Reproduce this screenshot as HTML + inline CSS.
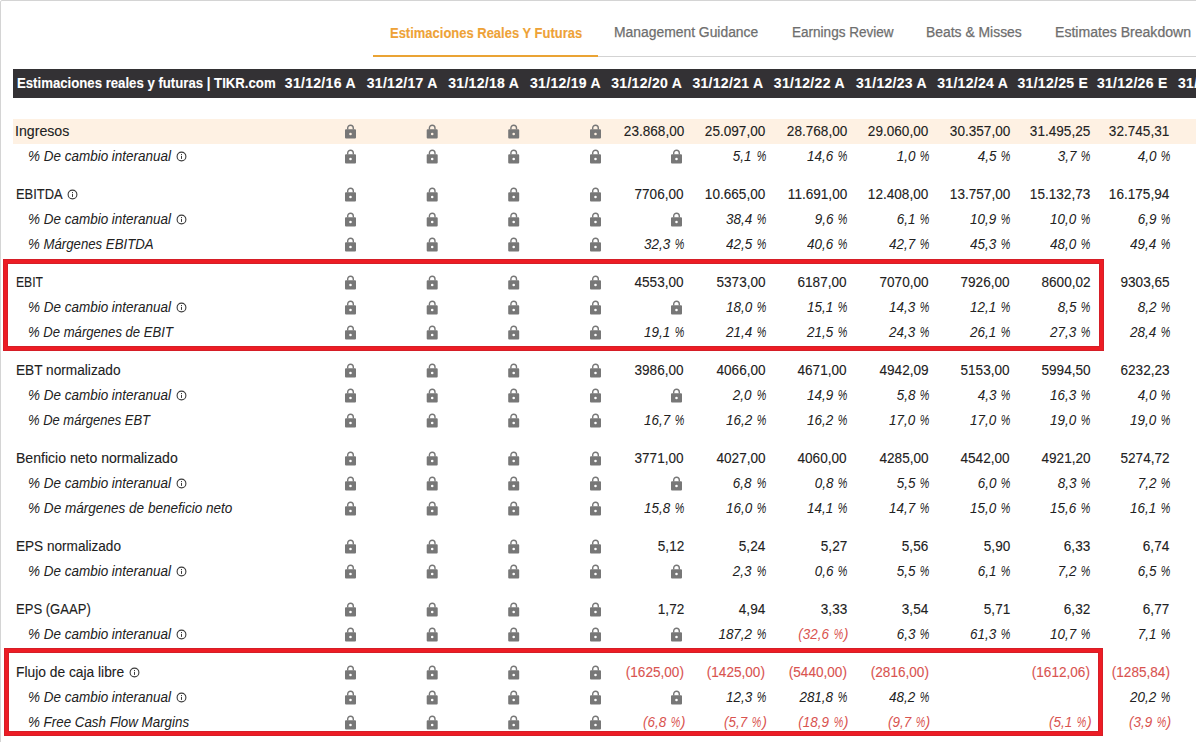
<!DOCTYPE html><html><head><meta charset="utf-8"><style>
*{margin:0;padding:0;box-sizing:border-box}
html,body{width:1196px;height:742px;overflow:hidden;background:#fff}
body{position:relative;font-family:"Liberation Sans",sans-serif;color:#212121}
.a{position:absolute;white-space:nowrap;line-height:0;-webkit-text-stroke:0.1px currentColor}
.r{text-align:right}
.n{font-size:14px}
.i{font-style:italic} .a[style*="italic"]{-webkit-text-stroke:0px currentColor}
.neg{color:#de5b53}
.lk{position:absolute;display:block;line-height:0} .lk svg{display:block}
</style></head><body><div style="position:absolute;left:0;top:0;width:1400px;height:900px;border:1px solid #d4d4d4;border-radius:2px"></div>
<div style="position:absolute;left:373px;top:56px;width:823px;height:1px;background:#d3d3d3"></div>
<div style="position:absolute;left:373px;top:55px;width:225px;height:2px;background:#eaa334"></div>
<div style="position:absolute;left:13px;top:69px;width:1183px;height:29px;background:#333134"></div>
<div class="a" style="top:33.30px;left:390.19px;font-size:14px;font-weight:700;color:#eea237;transform:scaleX(0.927);transform-origin:left;">Estimaciones Reales Y Futuras</div>
<div class="a" style="top:32.30px;left:613.81px;font-size:14px;font-weight:400;color:#6e6e6e;transform:scaleX(0.991);transform-origin:left;-webkit-text-stroke:0.25px #6e6e6e;">Management Guidance</div>
<div class="a" style="top:32.30px;left:791.61px;font-size:14px;font-weight:400;color:#6e6e6e;transform:scaleX(0.9676);transform-origin:left;-webkit-text-stroke:0.25px #6e6e6e;">Earnings Review</div>
<div class="a" style="top:32.30px;left:926.40px;font-size:14px;font-weight:400;color:#6e6e6e;transform:scaleX(0.9927);transform-origin:left;-webkit-text-stroke:0.25px #6e6e6e;">Beats &amp; Misses</div>
<div class="a" style="top:32.30px;left:1054.80px;font-size:14px;font-weight:400;color:#6e6e6e;transform:scaleX(1.0045);transform-origin:left;-webkit-text-stroke:0.25px #6e6e6e;">Estimates Breakdown</div>
<div class="a" style="top:83.30px;left:17.00px;font-size:14px;font-weight:700;color:#fff;transform:scaleX(0.9416);transform-origin:left;">Estimaciones reales y futuras | TIKR.com</div>
<div class="a " style="top:83.30px;font-size:14px;font-weight:700;color:#fff;letter-spacing:0.3px;right:840.20px;">31/12/16 A</div>
<div class="a " style="top:83.30px;font-size:14px;font-weight:700;color:#fff;letter-spacing:0.3px;right:758.30px;">31/12/17 A</div>
<div class="a " style="top:83.30px;font-size:14px;font-weight:700;color:#fff;letter-spacing:0.3px;right:676.80px;">31/12/18 A</div>
<div class="a " style="top:83.30px;font-size:14px;font-weight:700;color:#fff;letter-spacing:0.3px;right:595.00px;">31/12/19 A</div>
<div class="a " style="top:83.30px;font-size:14px;font-weight:700;color:#fff;letter-spacing:0.3px;right:513.80px;">31/12/20 A</div>
<div class="a " style="top:83.30px;font-size:14px;font-weight:700;color:#fff;letter-spacing:0.3px;right:432.60px;">31/12/21 A</div>
<div class="a " style="top:83.30px;font-size:14px;font-weight:700;color:#fff;letter-spacing:0.3px;right:351.20px;">31/12/22 A</div>
<div class="a " style="top:83.30px;font-size:14px;font-weight:700;color:#fff;letter-spacing:0.3px;right:269.00px;">31/12/23 A</div>
<div class="a " style="top:83.30px;font-size:14px;font-weight:700;color:#fff;letter-spacing:0.3px;right:187.80px;">31/12/24 A</div>
<div class="a " style="top:83.30px;font-size:14px;font-weight:700;color:#fff;letter-spacing:0.3px;right:107.80px;">31/12/25 E</div>
<div class="a " style="top:83.30px;font-size:14px;font-weight:700;color:#fff;letter-spacing:0.3px;right:28.40px;">31/12/26 E</div>
<div class="a " style="top:83.30px;font-size:14px;font-weight:700;color:#fff;letter-spacing:0.3px;left:1178.00px;">31/12/27 E</div>
<div style="position:absolute;left:13px;top:119px;width:1183px;height:25px;background:#fef1e3"></div>
<div class="a lbl" style="top:131.30px;font-size:14px;left:15.49px;transform:scaleX(1.0113);transform-origin:left;">Ingresos</div>
<div class="lk" style="left:345px;top:124px"><svg viewBox="0.00 -0.50 12 16" width="12" height="16"><path fill="#777" fill-rule="evenodd" d="M1,4.7H10A1,1 0 0 1 11,5.7V12.9A1,1 0 0 1 10,13.9H1A1,1 0 0 1 0,12.9V5.7A1,1 0 0 1 1,4.7ZM5.5,8.15A1.3,1.3 0 1 0 5.5,10.75A1.3,1.3 0 1 0 5.5,8.15Z"/><path d="M2.7,5V3.5A2.8,2.8 0 0 1 8.3,3.5V5" fill="none" stroke="#777" stroke-width="1.4"/></svg></div>
<div class="lk" style="left:426px;top:124px"><svg viewBox="-0.70 -0.50 12 16" width="12" height="16"><path fill="#777" fill-rule="evenodd" d="M1,4.7H10A1,1 0 0 1 11,5.7V12.9A1,1 0 0 1 10,13.9H1A1,1 0 0 1 0,12.9V5.7A1,1 0 0 1 1,4.7ZM5.5,8.15A1.3,1.3 0 1 0 5.5,10.75A1.3,1.3 0 1 0 5.5,8.15Z"/><path d="M2.7,5V3.5A2.8,2.8 0 0 1 8.3,3.5V5" fill="none" stroke="#777" stroke-width="1.4"/></svg></div>
<div class="lk" style="left:508px;top:124px"><svg viewBox="-0.20 -0.50 12 16" width="12" height="16"><path fill="#777" fill-rule="evenodd" d="M1,4.7H10A1,1 0 0 1 11,5.7V12.9A1,1 0 0 1 10,13.9H1A1,1 0 0 1 0,12.9V5.7A1,1 0 0 1 1,4.7ZM5.5,8.15A1.3,1.3 0 1 0 5.5,10.75A1.3,1.3 0 1 0 5.5,8.15Z"/><path d="M2.7,5V3.5A2.8,2.8 0 0 1 8.3,3.5V5" fill="none" stroke="#777" stroke-width="1.4"/></svg></div>
<div class="lk" style="left:590px;top:124px"><svg viewBox="0.00 -0.50 12 16" width="12" height="16"><path fill="#777" fill-rule="evenodd" d="M1,4.7H10A1,1 0 0 1 11,5.7V12.9A1,1 0 0 1 10,13.9H1A1,1 0 0 1 0,12.9V5.7A1,1 0 0 1 1,4.7ZM5.5,8.15A1.3,1.3 0 1 0 5.5,10.75A1.3,1.3 0 1 0 5.5,8.15Z"/><path d="M2.7,5V3.5A2.8,2.8 0 0 1 8.3,3.5V5" fill="none" stroke="#777" stroke-width="1.4"/></svg></div>
<div class="a " style="top:131.30px;font-size:14px;right:512.20px;transform:scaleX(0.97);transform-origin:right;">23.868,00</div>
<div class="a " style="top:131.30px;font-size:14px;right:430.60px;transform:scaleX(0.97);transform-origin:right;">25.097,00</div>
<div class="a " style="top:131.30px;font-size:14px;right:349.10px;transform:scaleX(0.97);transform-origin:right;">28.768,00</div>
<div class="a " style="top:131.30px;font-size:14px;right:267.30px;transform:scaleX(0.97);transform-origin:right;">29.060,00</div>
<div class="a " style="top:131.30px;font-size:14px;right:186.10px;transform:scaleX(0.97);transform-origin:right;">30.357,00</div>
<div class="a " style="top:131.30px;font-size:14px;right:105.90px;transform:scaleX(0.97);transform-origin:right;">31.495,25</div>
<div class="a " style="top:131.30px;font-size:14px;right:26.40px;transform:scaleX(0.97);transform-origin:right;">32.745,31</div>
<div class="a lbl" style="top:156.30px;font-size:14px;font-style:italic;left:28.22px;transform:scaleX(0.9624);transform-origin:left;">% De cambio interanual</div>
<div class="lk" style="left:176.00px;top:151px"><svg viewBox="0 0 11 11" width="11" height="11"><circle cx="5.5" cy="5.5" r="4.4" fill="none" stroke="#3a3a3a" stroke-width="1.1"/><rect x="5" y="4.9" width="1" height="3" fill="#3a3a3a"/><rect x="5" y="3" width="1" height="1.1" fill="#3a3a3a"/></svg></div>
<div class="lk" style="left:345px;top:149px"><svg viewBox="0.00 -0.50 12 16" width="12" height="16"><path fill="#777" fill-rule="evenodd" d="M1,4.7H10A1,1 0 0 1 11,5.7V12.9A1,1 0 0 1 10,13.9H1A1,1 0 0 1 0,12.9V5.7A1,1 0 0 1 1,4.7ZM5.5,8.15A1.3,1.3 0 1 0 5.5,10.75A1.3,1.3 0 1 0 5.5,8.15Z"/><path d="M2.7,5V3.5A2.8,2.8 0 0 1 8.3,3.5V5" fill="none" stroke="#777" stroke-width="1.4"/></svg></div>
<div class="lk" style="left:426px;top:149px"><svg viewBox="-0.70 -0.50 12 16" width="12" height="16"><path fill="#777" fill-rule="evenodd" d="M1,4.7H10A1,1 0 0 1 11,5.7V12.9A1,1 0 0 1 10,13.9H1A1,1 0 0 1 0,12.9V5.7A1,1 0 0 1 1,4.7ZM5.5,8.15A1.3,1.3 0 1 0 5.5,10.75A1.3,1.3 0 1 0 5.5,8.15Z"/><path d="M2.7,5V3.5A2.8,2.8 0 0 1 8.3,3.5V5" fill="none" stroke="#777" stroke-width="1.4"/></svg></div>
<div class="lk" style="left:508px;top:149px"><svg viewBox="-0.20 -0.50 12 16" width="12" height="16"><path fill="#777" fill-rule="evenodd" d="M1,4.7H10A1,1 0 0 1 11,5.7V12.9A1,1 0 0 1 10,13.9H1A1,1 0 0 1 0,12.9V5.7A1,1 0 0 1 1,4.7ZM5.5,8.15A1.3,1.3 0 1 0 5.5,10.75A1.3,1.3 0 1 0 5.5,8.15Z"/><path d="M2.7,5V3.5A2.8,2.8 0 0 1 8.3,3.5V5" fill="none" stroke="#777" stroke-width="1.4"/></svg></div>
<div class="lk" style="left:590px;top:149px"><svg viewBox="0.00 -0.50 12 16" width="12" height="16"><path fill="#777" fill-rule="evenodd" d="M1,4.7H10A1,1 0 0 1 11,5.7V12.9A1,1 0 0 1 10,13.9H1A1,1 0 0 1 0,12.9V5.7A1,1 0 0 1 1,4.7ZM5.5,8.15A1.3,1.3 0 1 0 5.5,10.75A1.3,1.3 0 1 0 5.5,8.15Z"/><path d="M2.7,5V3.5A2.8,2.8 0 0 1 8.3,3.5V5" fill="none" stroke="#777" stroke-width="1.4"/></svg></div>
<div class="lk" style="left:671px;top:149px"><svg viewBox="-0.00 -0.50 12 16" width="12" height="16"><path fill="#777" fill-rule="evenodd" d="M1,4.7H10A1,1 0 0 1 11,5.7V12.9A1,1 0 0 1 10,13.9H1A1,1 0 0 1 0,12.9V5.7A1,1 0 0 1 1,4.7ZM5.5,8.15A1.3,1.3 0 1 0 5.5,10.75A1.3,1.3 0 1 0 5.5,8.15Z"/><path d="M2.7,5V3.5A2.8,2.8 0 0 1 8.3,3.5V5" fill="none" stroke="#777" stroke-width="1.4"/></svg></div>
<div class="a " style="top:156.30px;font-size:14px;font-style:italic;right:429.90px;transform:scaleX(0.77);transform-origin:right;">%</div>
<div class="a " style="top:156.30px;font-size:14px;font-style:italic;right:444.20px;transform:scaleX(0.96);transform-origin:right;">5,1</div>
<div class="a " style="top:156.30px;font-size:14px;font-style:italic;right:348.40px;transform:scaleX(0.77);transform-origin:right;">%</div>
<div class="a " style="top:156.30px;font-size:14px;font-style:italic;right:362.70px;transform:scaleX(0.96);transform-origin:right;">14,6</div>
<div class="a " style="top:156.30px;font-size:14px;font-style:italic;right:266.60px;transform:scaleX(0.77);transform-origin:right;">%</div>
<div class="a " style="top:156.30px;font-size:14px;font-style:italic;right:280.90px;transform:scaleX(0.96);transform-origin:right;">1,0</div>
<div class="a " style="top:156.30px;font-size:14px;font-style:italic;right:185.40px;transform:scaleX(0.77);transform-origin:right;">%</div>
<div class="a " style="top:156.30px;font-size:14px;font-style:italic;right:199.70px;transform:scaleX(0.96);transform-origin:right;">4,5</div>
<div class="a " style="top:156.30px;font-size:14px;font-style:italic;right:105.20px;transform:scaleX(0.77);transform-origin:right;">%</div>
<div class="a " style="top:156.30px;font-size:14px;font-style:italic;right:119.50px;transform:scaleX(0.96);transform-origin:right;">3,7</div>
<div class="a " style="top:156.30px;font-size:14px;font-style:italic;right:25.70px;transform:scaleX(0.77);transform-origin:right;">%</div>
<div class="a " style="top:156.30px;font-size:14px;font-style:italic;right:40.00px;transform:scaleX(0.96);transform-origin:right;">4,0</div>
<div class="a lbl" style="top:194.30px;font-size:14px;left:16.04px;transform:scaleX(0.922);transform-origin:left;">EBITDA</div>
<div class="lk" style="left:67.00px;top:189px"><svg viewBox="0 0 11 11" width="11" height="11"><circle cx="5.5" cy="5.5" r="4.4" fill="none" stroke="#3a3a3a" stroke-width="1.1"/><rect x="5" y="4.9" width="1" height="3" fill="#3a3a3a"/><rect x="5" y="3" width="1" height="1.1" fill="#3a3a3a"/></svg></div>
<div class="lk" style="left:345px;top:187px"><svg viewBox="0.00 -0.50 12 16" width="12" height="16"><path fill="#777" fill-rule="evenodd" d="M1,4.7H10A1,1 0 0 1 11,5.7V12.9A1,1 0 0 1 10,13.9H1A1,1 0 0 1 0,12.9V5.7A1,1 0 0 1 1,4.7ZM5.5,8.15A1.3,1.3 0 1 0 5.5,10.75A1.3,1.3 0 1 0 5.5,8.15Z"/><path d="M2.7,5V3.5A2.8,2.8 0 0 1 8.3,3.5V5" fill="none" stroke="#777" stroke-width="1.4"/></svg></div>
<div class="lk" style="left:426px;top:187px"><svg viewBox="-0.70 -0.50 12 16" width="12" height="16"><path fill="#777" fill-rule="evenodd" d="M1,4.7H10A1,1 0 0 1 11,5.7V12.9A1,1 0 0 1 10,13.9H1A1,1 0 0 1 0,12.9V5.7A1,1 0 0 1 1,4.7ZM5.5,8.15A1.3,1.3 0 1 0 5.5,10.75A1.3,1.3 0 1 0 5.5,8.15Z"/><path d="M2.7,5V3.5A2.8,2.8 0 0 1 8.3,3.5V5" fill="none" stroke="#777" stroke-width="1.4"/></svg></div>
<div class="lk" style="left:508px;top:187px"><svg viewBox="-0.20 -0.50 12 16" width="12" height="16"><path fill="#777" fill-rule="evenodd" d="M1,4.7H10A1,1 0 0 1 11,5.7V12.9A1,1 0 0 1 10,13.9H1A1,1 0 0 1 0,12.9V5.7A1,1 0 0 1 1,4.7ZM5.5,8.15A1.3,1.3 0 1 0 5.5,10.75A1.3,1.3 0 1 0 5.5,8.15Z"/><path d="M2.7,5V3.5A2.8,2.8 0 0 1 8.3,3.5V5" fill="none" stroke="#777" stroke-width="1.4"/></svg></div>
<div class="lk" style="left:590px;top:187px"><svg viewBox="0.00 -0.50 12 16" width="12" height="16"><path fill="#777" fill-rule="evenodd" d="M1,4.7H10A1,1 0 0 1 11,5.7V12.9A1,1 0 0 1 10,13.9H1A1,1 0 0 1 0,12.9V5.7A1,1 0 0 1 1,4.7ZM5.5,8.15A1.3,1.3 0 1 0 5.5,10.75A1.3,1.3 0 1 0 5.5,8.15Z"/><path d="M2.7,5V3.5A2.8,2.8 0 0 1 8.3,3.5V5" fill="none" stroke="#777" stroke-width="1.4"/></svg></div>
<div class="a " style="top:194.30px;font-size:14px;right:512.20px;transform:scaleX(0.97);transform-origin:right;">7706,00</div>
<div class="a " style="top:194.30px;font-size:14px;right:430.60px;transform:scaleX(0.97);transform-origin:right;">10.665,00</div>
<div class="a " style="top:194.30px;font-size:14px;right:349.10px;transform:scaleX(0.97);transform-origin:right;">11.691,00</div>
<div class="a " style="top:194.30px;font-size:14px;right:267.30px;transform:scaleX(0.97);transform-origin:right;">12.408,00</div>
<div class="a " style="top:194.30px;font-size:14px;right:186.10px;transform:scaleX(0.97);transform-origin:right;">13.757,00</div>
<div class="a " style="top:194.30px;font-size:14px;right:105.90px;transform:scaleX(0.97);transform-origin:right;">15.132,73</div>
<div class="a " style="top:194.30px;font-size:14px;right:26.40px;transform:scaleX(0.97);transform-origin:right;">16.175,94</div>
<div class="a lbl" style="top:219.30px;font-size:14px;font-style:italic;left:28.22px;transform:scaleX(0.9624);transform-origin:left;">% De cambio interanual</div>
<div class="lk" style="left:176.00px;top:214px"><svg viewBox="0 0 11 11" width="11" height="11"><circle cx="5.5" cy="5.5" r="4.4" fill="none" stroke="#3a3a3a" stroke-width="1.1"/><rect x="5" y="4.9" width="1" height="3" fill="#3a3a3a"/><rect x="5" y="3" width="1" height="1.1" fill="#3a3a3a"/></svg></div>
<div class="lk" style="left:345px;top:212px"><svg viewBox="0.00 -0.50 12 16" width="12" height="16"><path fill="#777" fill-rule="evenodd" d="M1,4.7H10A1,1 0 0 1 11,5.7V12.9A1,1 0 0 1 10,13.9H1A1,1 0 0 1 0,12.9V5.7A1,1 0 0 1 1,4.7ZM5.5,8.15A1.3,1.3 0 1 0 5.5,10.75A1.3,1.3 0 1 0 5.5,8.15Z"/><path d="M2.7,5V3.5A2.8,2.8 0 0 1 8.3,3.5V5" fill="none" stroke="#777" stroke-width="1.4"/></svg></div>
<div class="lk" style="left:426px;top:212px"><svg viewBox="-0.70 -0.50 12 16" width="12" height="16"><path fill="#777" fill-rule="evenodd" d="M1,4.7H10A1,1 0 0 1 11,5.7V12.9A1,1 0 0 1 10,13.9H1A1,1 0 0 1 0,12.9V5.7A1,1 0 0 1 1,4.7ZM5.5,8.15A1.3,1.3 0 1 0 5.5,10.75A1.3,1.3 0 1 0 5.5,8.15Z"/><path d="M2.7,5V3.5A2.8,2.8 0 0 1 8.3,3.5V5" fill="none" stroke="#777" stroke-width="1.4"/></svg></div>
<div class="lk" style="left:508px;top:212px"><svg viewBox="-0.20 -0.50 12 16" width="12" height="16"><path fill="#777" fill-rule="evenodd" d="M1,4.7H10A1,1 0 0 1 11,5.7V12.9A1,1 0 0 1 10,13.9H1A1,1 0 0 1 0,12.9V5.7A1,1 0 0 1 1,4.7ZM5.5,8.15A1.3,1.3 0 1 0 5.5,10.75A1.3,1.3 0 1 0 5.5,8.15Z"/><path d="M2.7,5V3.5A2.8,2.8 0 0 1 8.3,3.5V5" fill="none" stroke="#777" stroke-width="1.4"/></svg></div>
<div class="lk" style="left:590px;top:212px"><svg viewBox="0.00 -0.50 12 16" width="12" height="16"><path fill="#777" fill-rule="evenodd" d="M1,4.7H10A1,1 0 0 1 11,5.7V12.9A1,1 0 0 1 10,13.9H1A1,1 0 0 1 0,12.9V5.7A1,1 0 0 1 1,4.7ZM5.5,8.15A1.3,1.3 0 1 0 5.5,10.75A1.3,1.3 0 1 0 5.5,8.15Z"/><path d="M2.7,5V3.5A2.8,2.8 0 0 1 8.3,3.5V5" fill="none" stroke="#777" stroke-width="1.4"/></svg></div>
<div class="lk" style="left:671px;top:212px"><svg viewBox="-0.00 -0.50 12 16" width="12" height="16"><path fill="#777" fill-rule="evenodd" d="M1,4.7H10A1,1 0 0 1 11,5.7V12.9A1,1 0 0 1 10,13.9H1A1,1 0 0 1 0,12.9V5.7A1,1 0 0 1 1,4.7ZM5.5,8.15A1.3,1.3 0 1 0 5.5,10.75A1.3,1.3 0 1 0 5.5,8.15Z"/><path d="M2.7,5V3.5A2.8,2.8 0 0 1 8.3,3.5V5" fill="none" stroke="#777" stroke-width="1.4"/></svg></div>
<div class="a " style="top:219.30px;font-size:14px;font-style:italic;right:429.90px;transform:scaleX(0.77);transform-origin:right;">%</div>
<div class="a " style="top:219.30px;font-size:14px;font-style:italic;right:444.20px;transform:scaleX(0.96);transform-origin:right;">38,4</div>
<div class="a " style="top:219.30px;font-size:14px;font-style:italic;right:348.40px;transform:scaleX(0.77);transform-origin:right;">%</div>
<div class="a " style="top:219.30px;font-size:14px;font-style:italic;right:362.70px;transform:scaleX(0.96);transform-origin:right;">9,6</div>
<div class="a " style="top:219.30px;font-size:14px;font-style:italic;right:266.60px;transform:scaleX(0.77);transform-origin:right;">%</div>
<div class="a " style="top:219.30px;font-size:14px;font-style:italic;right:280.90px;transform:scaleX(0.96);transform-origin:right;">6,1</div>
<div class="a " style="top:219.30px;font-size:14px;font-style:italic;right:185.40px;transform:scaleX(0.77);transform-origin:right;">%</div>
<div class="a " style="top:219.30px;font-size:14px;font-style:italic;right:199.70px;transform:scaleX(0.96);transform-origin:right;">10,9</div>
<div class="a " style="top:219.30px;font-size:14px;font-style:italic;right:105.20px;transform:scaleX(0.77);transform-origin:right;">%</div>
<div class="a " style="top:219.30px;font-size:14px;font-style:italic;right:119.50px;transform:scaleX(0.96);transform-origin:right;">10,0</div>
<div class="a " style="top:219.30px;font-size:14px;font-style:italic;right:25.70px;transform:scaleX(0.77);transform-origin:right;">%</div>
<div class="a " style="top:219.30px;font-size:14px;font-style:italic;right:40.00px;transform:scaleX(0.96);transform-origin:right;">6,9</div>
<div class="a lbl" style="top:244.30px;font-size:14px;font-style:italic;left:28.22px;transform:scaleX(0.9439);transform-origin:left;">% Márgenes EBITDA</div>
<div class="lk" style="left:345px;top:237px"><svg viewBox="0.00 -0.50 12 16" width="12" height="16"><path fill="#777" fill-rule="evenodd" d="M1,4.7H10A1,1 0 0 1 11,5.7V12.9A1,1 0 0 1 10,13.9H1A1,1 0 0 1 0,12.9V5.7A1,1 0 0 1 1,4.7ZM5.5,8.15A1.3,1.3 0 1 0 5.5,10.75A1.3,1.3 0 1 0 5.5,8.15Z"/><path d="M2.7,5V3.5A2.8,2.8 0 0 1 8.3,3.5V5" fill="none" stroke="#777" stroke-width="1.4"/></svg></div>
<div class="lk" style="left:426px;top:237px"><svg viewBox="-0.70 -0.50 12 16" width="12" height="16"><path fill="#777" fill-rule="evenodd" d="M1,4.7H10A1,1 0 0 1 11,5.7V12.9A1,1 0 0 1 10,13.9H1A1,1 0 0 1 0,12.9V5.7A1,1 0 0 1 1,4.7ZM5.5,8.15A1.3,1.3 0 1 0 5.5,10.75A1.3,1.3 0 1 0 5.5,8.15Z"/><path d="M2.7,5V3.5A2.8,2.8 0 0 1 8.3,3.5V5" fill="none" stroke="#777" stroke-width="1.4"/></svg></div>
<div class="lk" style="left:508px;top:237px"><svg viewBox="-0.20 -0.50 12 16" width="12" height="16"><path fill="#777" fill-rule="evenodd" d="M1,4.7H10A1,1 0 0 1 11,5.7V12.9A1,1 0 0 1 10,13.9H1A1,1 0 0 1 0,12.9V5.7A1,1 0 0 1 1,4.7ZM5.5,8.15A1.3,1.3 0 1 0 5.5,10.75A1.3,1.3 0 1 0 5.5,8.15Z"/><path d="M2.7,5V3.5A2.8,2.8 0 0 1 8.3,3.5V5" fill="none" stroke="#777" stroke-width="1.4"/></svg></div>
<div class="lk" style="left:590px;top:237px"><svg viewBox="0.00 -0.50 12 16" width="12" height="16"><path fill="#777" fill-rule="evenodd" d="M1,4.7H10A1,1 0 0 1 11,5.7V12.9A1,1 0 0 1 10,13.9H1A1,1 0 0 1 0,12.9V5.7A1,1 0 0 1 1,4.7ZM5.5,8.15A1.3,1.3 0 1 0 5.5,10.75A1.3,1.3 0 1 0 5.5,8.15Z"/><path d="M2.7,5V3.5A2.8,2.8 0 0 1 8.3,3.5V5" fill="none" stroke="#777" stroke-width="1.4"/></svg></div>
<div class="a " style="top:244.30px;font-size:14px;font-style:italic;right:511.50px;transform:scaleX(0.77);transform-origin:right;">%</div>
<div class="a " style="top:244.30px;font-size:14px;font-style:italic;right:525.80px;transform:scaleX(0.96);transform-origin:right;">32,3</div>
<div class="a " style="top:244.30px;font-size:14px;font-style:italic;right:429.90px;transform:scaleX(0.77);transform-origin:right;">%</div>
<div class="a " style="top:244.30px;font-size:14px;font-style:italic;right:444.20px;transform:scaleX(0.96);transform-origin:right;">42,5</div>
<div class="a " style="top:244.30px;font-size:14px;font-style:italic;right:348.40px;transform:scaleX(0.77);transform-origin:right;">%</div>
<div class="a " style="top:244.30px;font-size:14px;font-style:italic;right:362.70px;transform:scaleX(0.96);transform-origin:right;">40,6</div>
<div class="a " style="top:244.30px;font-size:14px;font-style:italic;right:266.60px;transform:scaleX(0.77);transform-origin:right;">%</div>
<div class="a " style="top:244.30px;font-size:14px;font-style:italic;right:280.90px;transform:scaleX(0.96);transform-origin:right;">42,7</div>
<div class="a " style="top:244.30px;font-size:14px;font-style:italic;right:185.40px;transform:scaleX(0.77);transform-origin:right;">%</div>
<div class="a " style="top:244.30px;font-size:14px;font-style:italic;right:199.70px;transform:scaleX(0.96);transform-origin:right;">45,3</div>
<div class="a " style="top:244.30px;font-size:14px;font-style:italic;right:105.20px;transform:scaleX(0.77);transform-origin:right;">%</div>
<div class="a " style="top:244.30px;font-size:14px;font-style:italic;right:119.50px;transform:scaleX(0.96);transform-origin:right;">48,0</div>
<div class="a " style="top:244.30px;font-size:14px;font-style:italic;right:25.70px;transform:scaleX(0.77);transform-origin:right;">%</div>
<div class="a " style="top:244.30px;font-size:14px;font-style:italic;right:40.00px;transform:scaleX(0.96);transform-origin:right;">49,4</div>
<div class="a lbl" style="top:282.30px;font-size:14px;left:16.25px;transform:scaleX(0.8677);transform-origin:left;">EBIT</div>
<div class="lk" style="left:345px;top:275px"><svg viewBox="0.00 -0.50 12 16" width="12" height="16"><path fill="#777" fill-rule="evenodd" d="M1,4.7H10A1,1 0 0 1 11,5.7V12.9A1,1 0 0 1 10,13.9H1A1,1 0 0 1 0,12.9V5.7A1,1 0 0 1 1,4.7ZM5.5,8.15A1.3,1.3 0 1 0 5.5,10.75A1.3,1.3 0 1 0 5.5,8.15Z"/><path d="M2.7,5V3.5A2.8,2.8 0 0 1 8.3,3.5V5" fill="none" stroke="#777" stroke-width="1.4"/></svg></div>
<div class="lk" style="left:426px;top:275px"><svg viewBox="-0.70 -0.50 12 16" width="12" height="16"><path fill="#777" fill-rule="evenodd" d="M1,4.7H10A1,1 0 0 1 11,5.7V12.9A1,1 0 0 1 10,13.9H1A1,1 0 0 1 0,12.9V5.7A1,1 0 0 1 1,4.7ZM5.5,8.15A1.3,1.3 0 1 0 5.5,10.75A1.3,1.3 0 1 0 5.5,8.15Z"/><path d="M2.7,5V3.5A2.8,2.8 0 0 1 8.3,3.5V5" fill="none" stroke="#777" stroke-width="1.4"/></svg></div>
<div class="lk" style="left:508px;top:275px"><svg viewBox="-0.20 -0.50 12 16" width="12" height="16"><path fill="#777" fill-rule="evenodd" d="M1,4.7H10A1,1 0 0 1 11,5.7V12.9A1,1 0 0 1 10,13.9H1A1,1 0 0 1 0,12.9V5.7A1,1 0 0 1 1,4.7ZM5.5,8.15A1.3,1.3 0 1 0 5.5,10.75A1.3,1.3 0 1 0 5.5,8.15Z"/><path d="M2.7,5V3.5A2.8,2.8 0 0 1 8.3,3.5V5" fill="none" stroke="#777" stroke-width="1.4"/></svg></div>
<div class="lk" style="left:590px;top:275px"><svg viewBox="0.00 -0.50 12 16" width="12" height="16"><path fill="#777" fill-rule="evenodd" d="M1,4.7H10A1,1 0 0 1 11,5.7V12.9A1,1 0 0 1 10,13.9H1A1,1 0 0 1 0,12.9V5.7A1,1 0 0 1 1,4.7ZM5.5,8.15A1.3,1.3 0 1 0 5.5,10.75A1.3,1.3 0 1 0 5.5,8.15Z"/><path d="M2.7,5V3.5A2.8,2.8 0 0 1 8.3,3.5V5" fill="none" stroke="#777" stroke-width="1.4"/></svg></div>
<div class="a " style="top:282.30px;font-size:14px;right:512.20px;transform:scaleX(0.97);transform-origin:right;">4553,00</div>
<div class="a " style="top:282.30px;font-size:14px;right:430.60px;transform:scaleX(0.97);transform-origin:right;">5373,00</div>
<div class="a " style="top:282.30px;font-size:14px;right:349.10px;transform:scaleX(0.97);transform-origin:right;">6187,00</div>
<div class="a " style="top:282.30px;font-size:14px;right:267.30px;transform:scaleX(0.97);transform-origin:right;">7070,00</div>
<div class="a " style="top:282.30px;font-size:14px;right:186.10px;transform:scaleX(0.97);transform-origin:right;">7926,00</div>
<div class="a " style="top:282.30px;font-size:14px;right:105.90px;transform:scaleX(0.97);transform-origin:right;">8600,02</div>
<div class="a " style="top:282.30px;font-size:14px;right:26.40px;transform:scaleX(0.97);transform-origin:right;">9303,65</div>
<div class="a lbl" style="top:307.30px;font-size:14px;font-style:italic;left:28.22px;transform:scaleX(0.9624);transform-origin:left;">% De cambio interanual</div>
<div class="lk" style="left:176.00px;top:302px"><svg viewBox="0 0 11 11" width="11" height="11"><circle cx="5.5" cy="5.5" r="4.4" fill="none" stroke="#3a3a3a" stroke-width="1.1"/><rect x="5" y="4.9" width="1" height="3" fill="#3a3a3a"/><rect x="5" y="3" width="1" height="1.1" fill="#3a3a3a"/></svg></div>
<div class="lk" style="left:345px;top:300px"><svg viewBox="0.00 -0.50 12 16" width="12" height="16"><path fill="#777" fill-rule="evenodd" d="M1,4.7H10A1,1 0 0 1 11,5.7V12.9A1,1 0 0 1 10,13.9H1A1,1 0 0 1 0,12.9V5.7A1,1 0 0 1 1,4.7ZM5.5,8.15A1.3,1.3 0 1 0 5.5,10.75A1.3,1.3 0 1 0 5.5,8.15Z"/><path d="M2.7,5V3.5A2.8,2.8 0 0 1 8.3,3.5V5" fill="none" stroke="#777" stroke-width="1.4"/></svg></div>
<div class="lk" style="left:426px;top:300px"><svg viewBox="-0.70 -0.50 12 16" width="12" height="16"><path fill="#777" fill-rule="evenodd" d="M1,4.7H10A1,1 0 0 1 11,5.7V12.9A1,1 0 0 1 10,13.9H1A1,1 0 0 1 0,12.9V5.7A1,1 0 0 1 1,4.7ZM5.5,8.15A1.3,1.3 0 1 0 5.5,10.75A1.3,1.3 0 1 0 5.5,8.15Z"/><path d="M2.7,5V3.5A2.8,2.8 0 0 1 8.3,3.5V5" fill="none" stroke="#777" stroke-width="1.4"/></svg></div>
<div class="lk" style="left:508px;top:300px"><svg viewBox="-0.20 -0.50 12 16" width="12" height="16"><path fill="#777" fill-rule="evenodd" d="M1,4.7H10A1,1 0 0 1 11,5.7V12.9A1,1 0 0 1 10,13.9H1A1,1 0 0 1 0,12.9V5.7A1,1 0 0 1 1,4.7ZM5.5,8.15A1.3,1.3 0 1 0 5.5,10.75A1.3,1.3 0 1 0 5.5,8.15Z"/><path d="M2.7,5V3.5A2.8,2.8 0 0 1 8.3,3.5V5" fill="none" stroke="#777" stroke-width="1.4"/></svg></div>
<div class="lk" style="left:590px;top:300px"><svg viewBox="0.00 -0.50 12 16" width="12" height="16"><path fill="#777" fill-rule="evenodd" d="M1,4.7H10A1,1 0 0 1 11,5.7V12.9A1,1 0 0 1 10,13.9H1A1,1 0 0 1 0,12.9V5.7A1,1 0 0 1 1,4.7ZM5.5,8.15A1.3,1.3 0 1 0 5.5,10.75A1.3,1.3 0 1 0 5.5,8.15Z"/><path d="M2.7,5V3.5A2.8,2.8 0 0 1 8.3,3.5V5" fill="none" stroke="#777" stroke-width="1.4"/></svg></div>
<div class="lk" style="left:671px;top:300px"><svg viewBox="-0.00 -0.50 12 16" width="12" height="16"><path fill="#777" fill-rule="evenodd" d="M1,4.7H10A1,1 0 0 1 11,5.7V12.9A1,1 0 0 1 10,13.9H1A1,1 0 0 1 0,12.9V5.7A1,1 0 0 1 1,4.7ZM5.5,8.15A1.3,1.3 0 1 0 5.5,10.75A1.3,1.3 0 1 0 5.5,8.15Z"/><path d="M2.7,5V3.5A2.8,2.8 0 0 1 8.3,3.5V5" fill="none" stroke="#777" stroke-width="1.4"/></svg></div>
<div class="a " style="top:307.30px;font-size:14px;font-style:italic;right:429.90px;transform:scaleX(0.77);transform-origin:right;">%</div>
<div class="a " style="top:307.30px;font-size:14px;font-style:italic;right:444.20px;transform:scaleX(0.96);transform-origin:right;">18,0</div>
<div class="a " style="top:307.30px;font-size:14px;font-style:italic;right:348.40px;transform:scaleX(0.77);transform-origin:right;">%</div>
<div class="a " style="top:307.30px;font-size:14px;font-style:italic;right:362.70px;transform:scaleX(0.96);transform-origin:right;">15,1</div>
<div class="a " style="top:307.30px;font-size:14px;font-style:italic;right:266.60px;transform:scaleX(0.77);transform-origin:right;">%</div>
<div class="a " style="top:307.30px;font-size:14px;font-style:italic;right:280.90px;transform:scaleX(0.96);transform-origin:right;">14,3</div>
<div class="a " style="top:307.30px;font-size:14px;font-style:italic;right:185.40px;transform:scaleX(0.77);transform-origin:right;">%</div>
<div class="a " style="top:307.30px;font-size:14px;font-style:italic;right:199.70px;transform:scaleX(0.96);transform-origin:right;">12,1</div>
<div class="a " style="top:307.30px;font-size:14px;font-style:italic;right:105.20px;transform:scaleX(0.77);transform-origin:right;">%</div>
<div class="a " style="top:307.30px;font-size:14px;font-style:italic;right:119.50px;transform:scaleX(0.96);transform-origin:right;">8,5</div>
<div class="a " style="top:307.30px;font-size:14px;font-style:italic;right:25.70px;transform:scaleX(0.77);transform-origin:right;">%</div>
<div class="a " style="top:307.30px;font-size:14px;font-style:italic;right:40.00px;transform:scaleX(0.96);transform-origin:right;">8,2</div>
<div class="a lbl" style="top:332.30px;font-size:14px;font-style:italic;left:28.23px;transform:scaleX(0.9359);transform-origin:left;">% De márgenes de EBIT</div>
<div class="lk" style="left:345px;top:325px"><svg viewBox="0.00 -0.50 12 16" width="12" height="16"><path fill="#777" fill-rule="evenodd" d="M1,4.7H10A1,1 0 0 1 11,5.7V12.9A1,1 0 0 1 10,13.9H1A1,1 0 0 1 0,12.9V5.7A1,1 0 0 1 1,4.7ZM5.5,8.15A1.3,1.3 0 1 0 5.5,10.75A1.3,1.3 0 1 0 5.5,8.15Z"/><path d="M2.7,5V3.5A2.8,2.8 0 0 1 8.3,3.5V5" fill="none" stroke="#777" stroke-width="1.4"/></svg></div>
<div class="lk" style="left:426px;top:325px"><svg viewBox="-0.70 -0.50 12 16" width="12" height="16"><path fill="#777" fill-rule="evenodd" d="M1,4.7H10A1,1 0 0 1 11,5.7V12.9A1,1 0 0 1 10,13.9H1A1,1 0 0 1 0,12.9V5.7A1,1 0 0 1 1,4.7ZM5.5,8.15A1.3,1.3 0 1 0 5.5,10.75A1.3,1.3 0 1 0 5.5,8.15Z"/><path d="M2.7,5V3.5A2.8,2.8 0 0 1 8.3,3.5V5" fill="none" stroke="#777" stroke-width="1.4"/></svg></div>
<div class="lk" style="left:508px;top:325px"><svg viewBox="-0.20 -0.50 12 16" width="12" height="16"><path fill="#777" fill-rule="evenodd" d="M1,4.7H10A1,1 0 0 1 11,5.7V12.9A1,1 0 0 1 10,13.9H1A1,1 0 0 1 0,12.9V5.7A1,1 0 0 1 1,4.7ZM5.5,8.15A1.3,1.3 0 1 0 5.5,10.75A1.3,1.3 0 1 0 5.5,8.15Z"/><path d="M2.7,5V3.5A2.8,2.8 0 0 1 8.3,3.5V5" fill="none" stroke="#777" stroke-width="1.4"/></svg></div>
<div class="lk" style="left:590px;top:325px"><svg viewBox="0.00 -0.50 12 16" width="12" height="16"><path fill="#777" fill-rule="evenodd" d="M1,4.7H10A1,1 0 0 1 11,5.7V12.9A1,1 0 0 1 10,13.9H1A1,1 0 0 1 0,12.9V5.7A1,1 0 0 1 1,4.7ZM5.5,8.15A1.3,1.3 0 1 0 5.5,10.75A1.3,1.3 0 1 0 5.5,8.15Z"/><path d="M2.7,5V3.5A2.8,2.8 0 0 1 8.3,3.5V5" fill="none" stroke="#777" stroke-width="1.4"/></svg></div>
<div class="a " style="top:332.30px;font-size:14px;font-style:italic;right:511.50px;transform:scaleX(0.77);transform-origin:right;">%</div>
<div class="a " style="top:332.30px;font-size:14px;font-style:italic;right:525.80px;transform:scaleX(0.96);transform-origin:right;">19,1</div>
<div class="a " style="top:332.30px;font-size:14px;font-style:italic;right:429.90px;transform:scaleX(0.77);transform-origin:right;">%</div>
<div class="a " style="top:332.30px;font-size:14px;font-style:italic;right:444.20px;transform:scaleX(0.96);transform-origin:right;">21,4</div>
<div class="a " style="top:332.30px;font-size:14px;font-style:italic;right:348.40px;transform:scaleX(0.77);transform-origin:right;">%</div>
<div class="a " style="top:332.30px;font-size:14px;font-style:italic;right:362.70px;transform:scaleX(0.96);transform-origin:right;">21,5</div>
<div class="a " style="top:332.30px;font-size:14px;font-style:italic;right:266.60px;transform:scaleX(0.77);transform-origin:right;">%</div>
<div class="a " style="top:332.30px;font-size:14px;font-style:italic;right:280.90px;transform:scaleX(0.96);transform-origin:right;">24,3</div>
<div class="a " style="top:332.30px;font-size:14px;font-style:italic;right:185.40px;transform:scaleX(0.77);transform-origin:right;">%</div>
<div class="a " style="top:332.30px;font-size:14px;font-style:italic;right:199.70px;transform:scaleX(0.96);transform-origin:right;">26,1</div>
<div class="a " style="top:332.30px;font-size:14px;font-style:italic;right:105.20px;transform:scaleX(0.77);transform-origin:right;">%</div>
<div class="a " style="top:332.30px;font-size:14px;font-style:italic;right:119.50px;transform:scaleX(0.96);transform-origin:right;">27,3</div>
<div class="a " style="top:332.30px;font-size:14px;font-style:italic;right:25.70px;transform:scaleX(0.77);transform-origin:right;">%</div>
<div class="a " style="top:332.30px;font-size:14px;font-style:italic;right:40.00px;transform:scaleX(0.96);transform-origin:right;">28,4</div>
<div class="a lbl" style="top:370.30px;font-size:14px;left:16.21px;transform:scaleX(0.9757);transform-origin:left;">EBT normalizado</div>
<div class="lk" style="left:345px;top:363px"><svg viewBox="0.00 -0.50 12 16" width="12" height="16"><path fill="#777" fill-rule="evenodd" d="M1,4.7H10A1,1 0 0 1 11,5.7V12.9A1,1 0 0 1 10,13.9H1A1,1 0 0 1 0,12.9V5.7A1,1 0 0 1 1,4.7ZM5.5,8.15A1.3,1.3 0 1 0 5.5,10.75A1.3,1.3 0 1 0 5.5,8.15Z"/><path d="M2.7,5V3.5A2.8,2.8 0 0 1 8.3,3.5V5" fill="none" stroke="#777" stroke-width="1.4"/></svg></div>
<div class="lk" style="left:426px;top:363px"><svg viewBox="-0.70 -0.50 12 16" width="12" height="16"><path fill="#777" fill-rule="evenodd" d="M1,4.7H10A1,1 0 0 1 11,5.7V12.9A1,1 0 0 1 10,13.9H1A1,1 0 0 1 0,12.9V5.7A1,1 0 0 1 1,4.7ZM5.5,8.15A1.3,1.3 0 1 0 5.5,10.75A1.3,1.3 0 1 0 5.5,8.15Z"/><path d="M2.7,5V3.5A2.8,2.8 0 0 1 8.3,3.5V5" fill="none" stroke="#777" stroke-width="1.4"/></svg></div>
<div class="lk" style="left:508px;top:363px"><svg viewBox="-0.20 -0.50 12 16" width="12" height="16"><path fill="#777" fill-rule="evenodd" d="M1,4.7H10A1,1 0 0 1 11,5.7V12.9A1,1 0 0 1 10,13.9H1A1,1 0 0 1 0,12.9V5.7A1,1 0 0 1 1,4.7ZM5.5,8.15A1.3,1.3 0 1 0 5.5,10.75A1.3,1.3 0 1 0 5.5,8.15Z"/><path d="M2.7,5V3.5A2.8,2.8 0 0 1 8.3,3.5V5" fill="none" stroke="#777" stroke-width="1.4"/></svg></div>
<div class="lk" style="left:590px;top:363px"><svg viewBox="0.00 -0.50 12 16" width="12" height="16"><path fill="#777" fill-rule="evenodd" d="M1,4.7H10A1,1 0 0 1 11,5.7V12.9A1,1 0 0 1 10,13.9H1A1,1 0 0 1 0,12.9V5.7A1,1 0 0 1 1,4.7ZM5.5,8.15A1.3,1.3 0 1 0 5.5,10.75A1.3,1.3 0 1 0 5.5,8.15Z"/><path d="M2.7,5V3.5A2.8,2.8 0 0 1 8.3,3.5V5" fill="none" stroke="#777" stroke-width="1.4"/></svg></div>
<div class="a " style="top:370.30px;font-size:14px;right:512.20px;transform:scaleX(0.97);transform-origin:right;">3986,00</div>
<div class="a " style="top:370.30px;font-size:14px;right:430.60px;transform:scaleX(0.97);transform-origin:right;">4066,00</div>
<div class="a " style="top:370.30px;font-size:14px;right:349.10px;transform:scaleX(0.97);transform-origin:right;">4671,00</div>
<div class="a " style="top:370.30px;font-size:14px;right:267.30px;transform:scaleX(0.97);transform-origin:right;">4942,09</div>
<div class="a " style="top:370.30px;font-size:14px;right:186.10px;transform:scaleX(0.97);transform-origin:right;">5153,00</div>
<div class="a " style="top:370.30px;font-size:14px;right:105.90px;transform:scaleX(0.97);transform-origin:right;">5994,50</div>
<div class="a " style="top:370.30px;font-size:14px;right:26.40px;transform:scaleX(0.97);transform-origin:right;">6232,23</div>
<div class="a lbl" style="top:395.30px;font-size:14px;font-style:italic;left:28.22px;transform:scaleX(0.9624);transform-origin:left;">% De cambio interanual</div>
<div class="lk" style="left:176.00px;top:390px"><svg viewBox="0 0 11 11" width="11" height="11"><circle cx="5.5" cy="5.5" r="4.4" fill="none" stroke="#3a3a3a" stroke-width="1.1"/><rect x="5" y="4.9" width="1" height="3" fill="#3a3a3a"/><rect x="5" y="3" width="1" height="1.1" fill="#3a3a3a"/></svg></div>
<div class="lk" style="left:345px;top:388px"><svg viewBox="0.00 -0.50 12 16" width="12" height="16"><path fill="#777" fill-rule="evenodd" d="M1,4.7H10A1,1 0 0 1 11,5.7V12.9A1,1 0 0 1 10,13.9H1A1,1 0 0 1 0,12.9V5.7A1,1 0 0 1 1,4.7ZM5.5,8.15A1.3,1.3 0 1 0 5.5,10.75A1.3,1.3 0 1 0 5.5,8.15Z"/><path d="M2.7,5V3.5A2.8,2.8 0 0 1 8.3,3.5V5" fill="none" stroke="#777" stroke-width="1.4"/></svg></div>
<div class="lk" style="left:426px;top:388px"><svg viewBox="-0.70 -0.50 12 16" width="12" height="16"><path fill="#777" fill-rule="evenodd" d="M1,4.7H10A1,1 0 0 1 11,5.7V12.9A1,1 0 0 1 10,13.9H1A1,1 0 0 1 0,12.9V5.7A1,1 0 0 1 1,4.7ZM5.5,8.15A1.3,1.3 0 1 0 5.5,10.75A1.3,1.3 0 1 0 5.5,8.15Z"/><path d="M2.7,5V3.5A2.8,2.8 0 0 1 8.3,3.5V5" fill="none" stroke="#777" stroke-width="1.4"/></svg></div>
<div class="lk" style="left:508px;top:388px"><svg viewBox="-0.20 -0.50 12 16" width="12" height="16"><path fill="#777" fill-rule="evenodd" d="M1,4.7H10A1,1 0 0 1 11,5.7V12.9A1,1 0 0 1 10,13.9H1A1,1 0 0 1 0,12.9V5.7A1,1 0 0 1 1,4.7ZM5.5,8.15A1.3,1.3 0 1 0 5.5,10.75A1.3,1.3 0 1 0 5.5,8.15Z"/><path d="M2.7,5V3.5A2.8,2.8 0 0 1 8.3,3.5V5" fill="none" stroke="#777" stroke-width="1.4"/></svg></div>
<div class="lk" style="left:590px;top:388px"><svg viewBox="0.00 -0.50 12 16" width="12" height="16"><path fill="#777" fill-rule="evenodd" d="M1,4.7H10A1,1 0 0 1 11,5.7V12.9A1,1 0 0 1 10,13.9H1A1,1 0 0 1 0,12.9V5.7A1,1 0 0 1 1,4.7ZM5.5,8.15A1.3,1.3 0 1 0 5.5,10.75A1.3,1.3 0 1 0 5.5,8.15Z"/><path d="M2.7,5V3.5A2.8,2.8 0 0 1 8.3,3.5V5" fill="none" stroke="#777" stroke-width="1.4"/></svg></div>
<div class="lk" style="left:671px;top:388px"><svg viewBox="-0.00 -0.50 12 16" width="12" height="16"><path fill="#777" fill-rule="evenodd" d="M1,4.7H10A1,1 0 0 1 11,5.7V12.9A1,1 0 0 1 10,13.9H1A1,1 0 0 1 0,12.9V5.7A1,1 0 0 1 1,4.7ZM5.5,8.15A1.3,1.3 0 1 0 5.5,10.75A1.3,1.3 0 1 0 5.5,8.15Z"/><path d="M2.7,5V3.5A2.8,2.8 0 0 1 8.3,3.5V5" fill="none" stroke="#777" stroke-width="1.4"/></svg></div>
<div class="a " style="top:395.30px;font-size:14px;font-style:italic;right:429.90px;transform:scaleX(0.77);transform-origin:right;">%</div>
<div class="a " style="top:395.30px;font-size:14px;font-style:italic;right:444.20px;transform:scaleX(0.96);transform-origin:right;">2,0</div>
<div class="a " style="top:395.30px;font-size:14px;font-style:italic;right:348.40px;transform:scaleX(0.77);transform-origin:right;">%</div>
<div class="a " style="top:395.30px;font-size:14px;font-style:italic;right:362.70px;transform:scaleX(0.96);transform-origin:right;">14,9</div>
<div class="a " style="top:395.30px;font-size:14px;font-style:italic;right:266.60px;transform:scaleX(0.77);transform-origin:right;">%</div>
<div class="a " style="top:395.30px;font-size:14px;font-style:italic;right:280.90px;transform:scaleX(0.96);transform-origin:right;">5,8</div>
<div class="a " style="top:395.30px;font-size:14px;font-style:italic;right:185.40px;transform:scaleX(0.77);transform-origin:right;">%</div>
<div class="a " style="top:395.30px;font-size:14px;font-style:italic;right:199.70px;transform:scaleX(0.96);transform-origin:right;">4,3</div>
<div class="a " style="top:395.30px;font-size:14px;font-style:italic;right:105.20px;transform:scaleX(0.77);transform-origin:right;">%</div>
<div class="a " style="top:395.30px;font-size:14px;font-style:italic;right:119.50px;transform:scaleX(0.96);transform-origin:right;">16,3</div>
<div class="a " style="top:395.30px;font-size:14px;font-style:italic;right:25.70px;transform:scaleX(0.77);transform-origin:right;">%</div>
<div class="a " style="top:395.30px;font-size:14px;font-style:italic;right:40.00px;transform:scaleX(0.96);transform-origin:right;">4,0</div>
<div class="a lbl" style="top:420.30px;font-size:14px;font-style:italic;left:28.42px;transform:scaleX(0.9278);transform-origin:left;">% De márgenes EBT</div>
<div class="lk" style="left:345px;top:413px"><svg viewBox="0.00 -0.50 12 16" width="12" height="16"><path fill="#777" fill-rule="evenodd" d="M1,4.7H10A1,1 0 0 1 11,5.7V12.9A1,1 0 0 1 10,13.9H1A1,1 0 0 1 0,12.9V5.7A1,1 0 0 1 1,4.7ZM5.5,8.15A1.3,1.3 0 1 0 5.5,10.75A1.3,1.3 0 1 0 5.5,8.15Z"/><path d="M2.7,5V3.5A2.8,2.8 0 0 1 8.3,3.5V5" fill="none" stroke="#777" stroke-width="1.4"/></svg></div>
<div class="lk" style="left:426px;top:413px"><svg viewBox="-0.70 -0.50 12 16" width="12" height="16"><path fill="#777" fill-rule="evenodd" d="M1,4.7H10A1,1 0 0 1 11,5.7V12.9A1,1 0 0 1 10,13.9H1A1,1 0 0 1 0,12.9V5.7A1,1 0 0 1 1,4.7ZM5.5,8.15A1.3,1.3 0 1 0 5.5,10.75A1.3,1.3 0 1 0 5.5,8.15Z"/><path d="M2.7,5V3.5A2.8,2.8 0 0 1 8.3,3.5V5" fill="none" stroke="#777" stroke-width="1.4"/></svg></div>
<div class="lk" style="left:508px;top:413px"><svg viewBox="-0.20 -0.50 12 16" width="12" height="16"><path fill="#777" fill-rule="evenodd" d="M1,4.7H10A1,1 0 0 1 11,5.7V12.9A1,1 0 0 1 10,13.9H1A1,1 0 0 1 0,12.9V5.7A1,1 0 0 1 1,4.7ZM5.5,8.15A1.3,1.3 0 1 0 5.5,10.75A1.3,1.3 0 1 0 5.5,8.15Z"/><path d="M2.7,5V3.5A2.8,2.8 0 0 1 8.3,3.5V5" fill="none" stroke="#777" stroke-width="1.4"/></svg></div>
<div class="lk" style="left:590px;top:413px"><svg viewBox="0.00 -0.50 12 16" width="12" height="16"><path fill="#777" fill-rule="evenodd" d="M1,4.7H10A1,1 0 0 1 11,5.7V12.9A1,1 0 0 1 10,13.9H1A1,1 0 0 1 0,12.9V5.7A1,1 0 0 1 1,4.7ZM5.5,8.15A1.3,1.3 0 1 0 5.5,10.75A1.3,1.3 0 1 0 5.5,8.15Z"/><path d="M2.7,5V3.5A2.8,2.8 0 0 1 8.3,3.5V5" fill="none" stroke="#777" stroke-width="1.4"/></svg></div>
<div class="a " style="top:420.30px;font-size:14px;font-style:italic;right:511.50px;transform:scaleX(0.77);transform-origin:right;">%</div>
<div class="a " style="top:420.30px;font-size:14px;font-style:italic;right:525.80px;transform:scaleX(0.96);transform-origin:right;">16,7</div>
<div class="a " style="top:420.30px;font-size:14px;font-style:italic;right:429.90px;transform:scaleX(0.77);transform-origin:right;">%</div>
<div class="a " style="top:420.30px;font-size:14px;font-style:italic;right:444.20px;transform:scaleX(0.96);transform-origin:right;">16,2</div>
<div class="a " style="top:420.30px;font-size:14px;font-style:italic;right:348.40px;transform:scaleX(0.77);transform-origin:right;">%</div>
<div class="a " style="top:420.30px;font-size:14px;font-style:italic;right:362.70px;transform:scaleX(0.96);transform-origin:right;">16,2</div>
<div class="a " style="top:420.30px;font-size:14px;font-style:italic;right:266.60px;transform:scaleX(0.77);transform-origin:right;">%</div>
<div class="a " style="top:420.30px;font-size:14px;font-style:italic;right:280.90px;transform:scaleX(0.96);transform-origin:right;">17,0</div>
<div class="a " style="top:420.30px;font-size:14px;font-style:italic;right:185.40px;transform:scaleX(0.77);transform-origin:right;">%</div>
<div class="a " style="top:420.30px;font-size:14px;font-style:italic;right:199.70px;transform:scaleX(0.96);transform-origin:right;">17,0</div>
<div class="a " style="top:420.30px;font-size:14px;font-style:italic;right:105.20px;transform:scaleX(0.77);transform-origin:right;">%</div>
<div class="a " style="top:420.30px;font-size:14px;font-style:italic;right:119.50px;transform:scaleX(0.96);transform-origin:right;">19,0</div>
<div class="a " style="top:420.30px;font-size:14px;font-style:italic;right:25.70px;transform:scaleX(0.77);transform-origin:right;">%</div>
<div class="a " style="top:420.30px;font-size:14px;font-style:italic;right:40.00px;transform:scaleX(0.96);transform-origin:right;">19,0</div>
<div class="a lbl" style="top:458.30px;font-size:14px;left:16.20px;transform:scaleX(1.0037);transform-origin:left;">Benficio neto normalizado</div>
<div class="lk" style="left:345px;top:451px"><svg viewBox="0.00 -0.50 12 16" width="12" height="16"><path fill="#777" fill-rule="evenodd" d="M1,4.7H10A1,1 0 0 1 11,5.7V12.9A1,1 0 0 1 10,13.9H1A1,1 0 0 1 0,12.9V5.7A1,1 0 0 1 1,4.7ZM5.5,8.15A1.3,1.3 0 1 0 5.5,10.75A1.3,1.3 0 1 0 5.5,8.15Z"/><path d="M2.7,5V3.5A2.8,2.8 0 0 1 8.3,3.5V5" fill="none" stroke="#777" stroke-width="1.4"/></svg></div>
<div class="lk" style="left:426px;top:451px"><svg viewBox="-0.70 -0.50 12 16" width="12" height="16"><path fill="#777" fill-rule="evenodd" d="M1,4.7H10A1,1 0 0 1 11,5.7V12.9A1,1 0 0 1 10,13.9H1A1,1 0 0 1 0,12.9V5.7A1,1 0 0 1 1,4.7ZM5.5,8.15A1.3,1.3 0 1 0 5.5,10.75A1.3,1.3 0 1 0 5.5,8.15Z"/><path d="M2.7,5V3.5A2.8,2.8 0 0 1 8.3,3.5V5" fill="none" stroke="#777" stroke-width="1.4"/></svg></div>
<div class="lk" style="left:508px;top:451px"><svg viewBox="-0.20 -0.50 12 16" width="12" height="16"><path fill="#777" fill-rule="evenodd" d="M1,4.7H10A1,1 0 0 1 11,5.7V12.9A1,1 0 0 1 10,13.9H1A1,1 0 0 1 0,12.9V5.7A1,1 0 0 1 1,4.7ZM5.5,8.15A1.3,1.3 0 1 0 5.5,10.75A1.3,1.3 0 1 0 5.5,8.15Z"/><path d="M2.7,5V3.5A2.8,2.8 0 0 1 8.3,3.5V5" fill="none" stroke="#777" stroke-width="1.4"/></svg></div>
<div class="lk" style="left:590px;top:451px"><svg viewBox="0.00 -0.50 12 16" width="12" height="16"><path fill="#777" fill-rule="evenodd" d="M1,4.7H10A1,1 0 0 1 11,5.7V12.9A1,1 0 0 1 10,13.9H1A1,1 0 0 1 0,12.9V5.7A1,1 0 0 1 1,4.7ZM5.5,8.15A1.3,1.3 0 1 0 5.5,10.75A1.3,1.3 0 1 0 5.5,8.15Z"/><path d="M2.7,5V3.5A2.8,2.8 0 0 1 8.3,3.5V5" fill="none" stroke="#777" stroke-width="1.4"/></svg></div>
<div class="a " style="top:458.30px;font-size:14px;right:512.20px;transform:scaleX(0.97);transform-origin:right;">3771,00</div>
<div class="a " style="top:458.30px;font-size:14px;right:430.60px;transform:scaleX(0.97);transform-origin:right;">4027,00</div>
<div class="a " style="top:458.30px;font-size:14px;right:349.10px;transform:scaleX(0.97);transform-origin:right;">4060,00</div>
<div class="a " style="top:458.30px;font-size:14px;right:267.30px;transform:scaleX(0.97);transform-origin:right;">4285,00</div>
<div class="a " style="top:458.30px;font-size:14px;right:186.10px;transform:scaleX(0.97);transform-origin:right;">4542,00</div>
<div class="a " style="top:458.30px;font-size:14px;right:105.90px;transform:scaleX(0.97);transform-origin:right;">4921,20</div>
<div class="a " style="top:458.30px;font-size:14px;right:26.40px;transform:scaleX(0.97);transform-origin:right;">5274,72</div>
<div class="a lbl" style="top:483.30px;font-size:14px;font-style:italic;left:28.22px;transform:scaleX(0.9624);transform-origin:left;">% De cambio interanual</div>
<div class="lk" style="left:176.00px;top:478px"><svg viewBox="0 0 11 11" width="11" height="11"><circle cx="5.5" cy="5.5" r="4.4" fill="none" stroke="#3a3a3a" stroke-width="1.1"/><rect x="5" y="4.9" width="1" height="3" fill="#3a3a3a"/><rect x="5" y="3" width="1" height="1.1" fill="#3a3a3a"/></svg></div>
<div class="lk" style="left:345px;top:476px"><svg viewBox="0.00 -0.50 12 16" width="12" height="16"><path fill="#777" fill-rule="evenodd" d="M1,4.7H10A1,1 0 0 1 11,5.7V12.9A1,1 0 0 1 10,13.9H1A1,1 0 0 1 0,12.9V5.7A1,1 0 0 1 1,4.7ZM5.5,8.15A1.3,1.3 0 1 0 5.5,10.75A1.3,1.3 0 1 0 5.5,8.15Z"/><path d="M2.7,5V3.5A2.8,2.8 0 0 1 8.3,3.5V5" fill="none" stroke="#777" stroke-width="1.4"/></svg></div>
<div class="lk" style="left:426px;top:476px"><svg viewBox="-0.70 -0.50 12 16" width="12" height="16"><path fill="#777" fill-rule="evenodd" d="M1,4.7H10A1,1 0 0 1 11,5.7V12.9A1,1 0 0 1 10,13.9H1A1,1 0 0 1 0,12.9V5.7A1,1 0 0 1 1,4.7ZM5.5,8.15A1.3,1.3 0 1 0 5.5,10.75A1.3,1.3 0 1 0 5.5,8.15Z"/><path d="M2.7,5V3.5A2.8,2.8 0 0 1 8.3,3.5V5" fill="none" stroke="#777" stroke-width="1.4"/></svg></div>
<div class="lk" style="left:508px;top:476px"><svg viewBox="-0.20 -0.50 12 16" width="12" height="16"><path fill="#777" fill-rule="evenodd" d="M1,4.7H10A1,1 0 0 1 11,5.7V12.9A1,1 0 0 1 10,13.9H1A1,1 0 0 1 0,12.9V5.7A1,1 0 0 1 1,4.7ZM5.5,8.15A1.3,1.3 0 1 0 5.5,10.75A1.3,1.3 0 1 0 5.5,8.15Z"/><path d="M2.7,5V3.5A2.8,2.8 0 0 1 8.3,3.5V5" fill="none" stroke="#777" stroke-width="1.4"/></svg></div>
<div class="lk" style="left:590px;top:476px"><svg viewBox="0.00 -0.50 12 16" width="12" height="16"><path fill="#777" fill-rule="evenodd" d="M1,4.7H10A1,1 0 0 1 11,5.7V12.9A1,1 0 0 1 10,13.9H1A1,1 0 0 1 0,12.9V5.7A1,1 0 0 1 1,4.7ZM5.5,8.15A1.3,1.3 0 1 0 5.5,10.75A1.3,1.3 0 1 0 5.5,8.15Z"/><path d="M2.7,5V3.5A2.8,2.8 0 0 1 8.3,3.5V5" fill="none" stroke="#777" stroke-width="1.4"/></svg></div>
<div class="lk" style="left:671px;top:476px"><svg viewBox="-0.00 -0.50 12 16" width="12" height="16"><path fill="#777" fill-rule="evenodd" d="M1,4.7H10A1,1 0 0 1 11,5.7V12.9A1,1 0 0 1 10,13.9H1A1,1 0 0 1 0,12.9V5.7A1,1 0 0 1 1,4.7ZM5.5,8.15A1.3,1.3 0 1 0 5.5,10.75A1.3,1.3 0 1 0 5.5,8.15Z"/><path d="M2.7,5V3.5A2.8,2.8 0 0 1 8.3,3.5V5" fill="none" stroke="#777" stroke-width="1.4"/></svg></div>
<div class="a " style="top:483.30px;font-size:14px;font-style:italic;right:429.90px;transform:scaleX(0.77);transform-origin:right;">%</div>
<div class="a " style="top:483.30px;font-size:14px;font-style:italic;right:444.20px;transform:scaleX(0.96);transform-origin:right;">6,8</div>
<div class="a " style="top:483.30px;font-size:14px;font-style:italic;right:348.40px;transform:scaleX(0.77);transform-origin:right;">%</div>
<div class="a " style="top:483.30px;font-size:14px;font-style:italic;right:362.70px;transform:scaleX(0.96);transform-origin:right;">0,8</div>
<div class="a " style="top:483.30px;font-size:14px;font-style:italic;right:266.60px;transform:scaleX(0.77);transform-origin:right;">%</div>
<div class="a " style="top:483.30px;font-size:14px;font-style:italic;right:280.90px;transform:scaleX(0.96);transform-origin:right;">5,5</div>
<div class="a " style="top:483.30px;font-size:14px;font-style:italic;right:185.40px;transform:scaleX(0.77);transform-origin:right;">%</div>
<div class="a " style="top:483.30px;font-size:14px;font-style:italic;right:199.70px;transform:scaleX(0.96);transform-origin:right;">6,0</div>
<div class="a " style="top:483.30px;font-size:14px;font-style:italic;right:105.20px;transform:scaleX(0.77);transform-origin:right;">%</div>
<div class="a " style="top:483.30px;font-size:14px;font-style:italic;right:119.50px;transform:scaleX(0.96);transform-origin:right;">8,3</div>
<div class="a " style="top:483.30px;font-size:14px;font-style:italic;right:25.70px;transform:scaleX(0.77);transform-origin:right;">%</div>
<div class="a " style="top:483.30px;font-size:14px;font-style:italic;right:40.00px;transform:scaleX(0.96);transform-origin:right;">7,2</div>
<div class="a lbl" style="top:508.30px;font-size:14px;font-style:italic;left:28.41px;transform:scaleX(0.9692);transform-origin:left;">% De márgenes de beneficio neto</div>
<div class="lk" style="left:345px;top:501px"><svg viewBox="0.00 -0.50 12 16" width="12" height="16"><path fill="#777" fill-rule="evenodd" d="M1,4.7H10A1,1 0 0 1 11,5.7V12.9A1,1 0 0 1 10,13.9H1A1,1 0 0 1 0,12.9V5.7A1,1 0 0 1 1,4.7ZM5.5,8.15A1.3,1.3 0 1 0 5.5,10.75A1.3,1.3 0 1 0 5.5,8.15Z"/><path d="M2.7,5V3.5A2.8,2.8 0 0 1 8.3,3.5V5" fill="none" stroke="#777" stroke-width="1.4"/></svg></div>
<div class="lk" style="left:426px;top:501px"><svg viewBox="-0.70 -0.50 12 16" width="12" height="16"><path fill="#777" fill-rule="evenodd" d="M1,4.7H10A1,1 0 0 1 11,5.7V12.9A1,1 0 0 1 10,13.9H1A1,1 0 0 1 0,12.9V5.7A1,1 0 0 1 1,4.7ZM5.5,8.15A1.3,1.3 0 1 0 5.5,10.75A1.3,1.3 0 1 0 5.5,8.15Z"/><path d="M2.7,5V3.5A2.8,2.8 0 0 1 8.3,3.5V5" fill="none" stroke="#777" stroke-width="1.4"/></svg></div>
<div class="lk" style="left:508px;top:501px"><svg viewBox="-0.20 -0.50 12 16" width="12" height="16"><path fill="#777" fill-rule="evenodd" d="M1,4.7H10A1,1 0 0 1 11,5.7V12.9A1,1 0 0 1 10,13.9H1A1,1 0 0 1 0,12.9V5.7A1,1 0 0 1 1,4.7ZM5.5,8.15A1.3,1.3 0 1 0 5.5,10.75A1.3,1.3 0 1 0 5.5,8.15Z"/><path d="M2.7,5V3.5A2.8,2.8 0 0 1 8.3,3.5V5" fill="none" stroke="#777" stroke-width="1.4"/></svg></div>
<div class="lk" style="left:590px;top:501px"><svg viewBox="0.00 -0.50 12 16" width="12" height="16"><path fill="#777" fill-rule="evenodd" d="M1,4.7H10A1,1 0 0 1 11,5.7V12.9A1,1 0 0 1 10,13.9H1A1,1 0 0 1 0,12.9V5.7A1,1 0 0 1 1,4.7ZM5.5,8.15A1.3,1.3 0 1 0 5.5,10.75A1.3,1.3 0 1 0 5.5,8.15Z"/><path d="M2.7,5V3.5A2.8,2.8 0 0 1 8.3,3.5V5" fill="none" stroke="#777" stroke-width="1.4"/></svg></div>
<div class="a " style="top:508.30px;font-size:14px;font-style:italic;right:511.50px;transform:scaleX(0.77);transform-origin:right;">%</div>
<div class="a " style="top:508.30px;font-size:14px;font-style:italic;right:525.80px;transform:scaleX(0.96);transform-origin:right;">15,8</div>
<div class="a " style="top:508.30px;font-size:14px;font-style:italic;right:429.90px;transform:scaleX(0.77);transform-origin:right;">%</div>
<div class="a " style="top:508.30px;font-size:14px;font-style:italic;right:444.20px;transform:scaleX(0.96);transform-origin:right;">16,0</div>
<div class="a " style="top:508.30px;font-size:14px;font-style:italic;right:348.40px;transform:scaleX(0.77);transform-origin:right;">%</div>
<div class="a " style="top:508.30px;font-size:14px;font-style:italic;right:362.70px;transform:scaleX(0.96);transform-origin:right;">14,1</div>
<div class="a " style="top:508.30px;font-size:14px;font-style:italic;right:266.60px;transform:scaleX(0.77);transform-origin:right;">%</div>
<div class="a " style="top:508.30px;font-size:14px;font-style:italic;right:280.90px;transform:scaleX(0.96);transform-origin:right;">14,7</div>
<div class="a " style="top:508.30px;font-size:14px;font-style:italic;right:185.40px;transform:scaleX(0.77);transform-origin:right;">%</div>
<div class="a " style="top:508.30px;font-size:14px;font-style:italic;right:199.70px;transform:scaleX(0.96);transform-origin:right;">15,0</div>
<div class="a " style="top:508.30px;font-size:14px;font-style:italic;right:105.20px;transform:scaleX(0.77);transform-origin:right;">%</div>
<div class="a " style="top:508.30px;font-size:14px;font-style:italic;right:119.50px;transform:scaleX(0.96);transform-origin:right;">15,6</div>
<div class="a " style="top:508.30px;font-size:14px;font-style:italic;right:25.70px;transform:scaleX(0.77);transform-origin:right;">%</div>
<div class="a " style="top:508.30px;font-size:14px;font-style:italic;right:40.00px;transform:scaleX(0.96);transform-origin:right;">16,1</div>
<div class="a lbl" style="top:546.30px;font-size:14px;left:16.21px;transform:scaleX(0.9704);transform-origin:left;">EPS normalizado</div>
<div class="lk" style="left:345px;top:539px"><svg viewBox="0.00 -0.50 12 16" width="12" height="16"><path fill="#777" fill-rule="evenodd" d="M1,4.7H10A1,1 0 0 1 11,5.7V12.9A1,1 0 0 1 10,13.9H1A1,1 0 0 1 0,12.9V5.7A1,1 0 0 1 1,4.7ZM5.5,8.15A1.3,1.3 0 1 0 5.5,10.75A1.3,1.3 0 1 0 5.5,8.15Z"/><path d="M2.7,5V3.5A2.8,2.8 0 0 1 8.3,3.5V5" fill="none" stroke="#777" stroke-width="1.4"/></svg></div>
<div class="lk" style="left:426px;top:539px"><svg viewBox="-0.70 -0.50 12 16" width="12" height="16"><path fill="#777" fill-rule="evenodd" d="M1,4.7H10A1,1 0 0 1 11,5.7V12.9A1,1 0 0 1 10,13.9H1A1,1 0 0 1 0,12.9V5.7A1,1 0 0 1 1,4.7ZM5.5,8.15A1.3,1.3 0 1 0 5.5,10.75A1.3,1.3 0 1 0 5.5,8.15Z"/><path d="M2.7,5V3.5A2.8,2.8 0 0 1 8.3,3.5V5" fill="none" stroke="#777" stroke-width="1.4"/></svg></div>
<div class="lk" style="left:508px;top:539px"><svg viewBox="-0.20 -0.50 12 16" width="12" height="16"><path fill="#777" fill-rule="evenodd" d="M1,4.7H10A1,1 0 0 1 11,5.7V12.9A1,1 0 0 1 10,13.9H1A1,1 0 0 1 0,12.9V5.7A1,1 0 0 1 1,4.7ZM5.5,8.15A1.3,1.3 0 1 0 5.5,10.75A1.3,1.3 0 1 0 5.5,8.15Z"/><path d="M2.7,5V3.5A2.8,2.8 0 0 1 8.3,3.5V5" fill="none" stroke="#777" stroke-width="1.4"/></svg></div>
<div class="lk" style="left:590px;top:539px"><svg viewBox="0.00 -0.50 12 16" width="12" height="16"><path fill="#777" fill-rule="evenodd" d="M1,4.7H10A1,1 0 0 1 11,5.7V12.9A1,1 0 0 1 10,13.9H1A1,1 0 0 1 0,12.9V5.7A1,1 0 0 1 1,4.7ZM5.5,8.15A1.3,1.3 0 1 0 5.5,10.75A1.3,1.3 0 1 0 5.5,8.15Z"/><path d="M2.7,5V3.5A2.8,2.8 0 0 1 8.3,3.5V5" fill="none" stroke="#777" stroke-width="1.4"/></svg></div>
<div class="a " style="top:546.30px;font-size:14px;right:512.20px;transform:scaleX(0.97);transform-origin:right;">5,12</div>
<div class="a " style="top:546.30px;font-size:14px;right:430.60px;transform:scaleX(0.97);transform-origin:right;">5,24</div>
<div class="a " style="top:546.30px;font-size:14px;right:349.10px;transform:scaleX(0.97);transform-origin:right;">5,27</div>
<div class="a " style="top:546.30px;font-size:14px;right:267.30px;transform:scaleX(0.97);transform-origin:right;">5,56</div>
<div class="a " style="top:546.30px;font-size:14px;right:186.10px;transform:scaleX(0.97);transform-origin:right;">5,90</div>
<div class="a " style="top:546.30px;font-size:14px;right:105.90px;transform:scaleX(0.97);transform-origin:right;">6,33</div>
<div class="a " style="top:546.30px;font-size:14px;right:26.40px;transform:scaleX(0.97);transform-origin:right;">6,74</div>
<div class="a lbl" style="top:571.30px;font-size:14px;font-style:italic;left:28.22px;transform:scaleX(0.9624);transform-origin:left;">% De cambio interanual</div>
<div class="lk" style="left:176.00px;top:566px"><svg viewBox="0 0 11 11" width="11" height="11"><circle cx="5.5" cy="5.5" r="4.4" fill="none" stroke="#3a3a3a" stroke-width="1.1"/><rect x="5" y="4.9" width="1" height="3" fill="#3a3a3a"/><rect x="5" y="3" width="1" height="1.1" fill="#3a3a3a"/></svg></div>
<div class="lk" style="left:345px;top:564px"><svg viewBox="0.00 -0.50 12 16" width="12" height="16"><path fill="#777" fill-rule="evenodd" d="M1,4.7H10A1,1 0 0 1 11,5.7V12.9A1,1 0 0 1 10,13.9H1A1,1 0 0 1 0,12.9V5.7A1,1 0 0 1 1,4.7ZM5.5,8.15A1.3,1.3 0 1 0 5.5,10.75A1.3,1.3 0 1 0 5.5,8.15Z"/><path d="M2.7,5V3.5A2.8,2.8 0 0 1 8.3,3.5V5" fill="none" stroke="#777" stroke-width="1.4"/></svg></div>
<div class="lk" style="left:426px;top:564px"><svg viewBox="-0.70 -0.50 12 16" width="12" height="16"><path fill="#777" fill-rule="evenodd" d="M1,4.7H10A1,1 0 0 1 11,5.7V12.9A1,1 0 0 1 10,13.9H1A1,1 0 0 1 0,12.9V5.7A1,1 0 0 1 1,4.7ZM5.5,8.15A1.3,1.3 0 1 0 5.5,10.75A1.3,1.3 0 1 0 5.5,8.15Z"/><path d="M2.7,5V3.5A2.8,2.8 0 0 1 8.3,3.5V5" fill="none" stroke="#777" stroke-width="1.4"/></svg></div>
<div class="lk" style="left:508px;top:564px"><svg viewBox="-0.20 -0.50 12 16" width="12" height="16"><path fill="#777" fill-rule="evenodd" d="M1,4.7H10A1,1 0 0 1 11,5.7V12.9A1,1 0 0 1 10,13.9H1A1,1 0 0 1 0,12.9V5.7A1,1 0 0 1 1,4.7ZM5.5,8.15A1.3,1.3 0 1 0 5.5,10.75A1.3,1.3 0 1 0 5.5,8.15Z"/><path d="M2.7,5V3.5A2.8,2.8 0 0 1 8.3,3.5V5" fill="none" stroke="#777" stroke-width="1.4"/></svg></div>
<div class="lk" style="left:590px;top:564px"><svg viewBox="0.00 -0.50 12 16" width="12" height="16"><path fill="#777" fill-rule="evenodd" d="M1,4.7H10A1,1 0 0 1 11,5.7V12.9A1,1 0 0 1 10,13.9H1A1,1 0 0 1 0,12.9V5.7A1,1 0 0 1 1,4.7ZM5.5,8.15A1.3,1.3 0 1 0 5.5,10.75A1.3,1.3 0 1 0 5.5,8.15Z"/><path d="M2.7,5V3.5A2.8,2.8 0 0 1 8.3,3.5V5" fill="none" stroke="#777" stroke-width="1.4"/></svg></div>
<div class="lk" style="left:671px;top:564px"><svg viewBox="-0.00 -0.50 12 16" width="12" height="16"><path fill="#777" fill-rule="evenodd" d="M1,4.7H10A1,1 0 0 1 11,5.7V12.9A1,1 0 0 1 10,13.9H1A1,1 0 0 1 0,12.9V5.7A1,1 0 0 1 1,4.7ZM5.5,8.15A1.3,1.3 0 1 0 5.5,10.75A1.3,1.3 0 1 0 5.5,8.15Z"/><path d="M2.7,5V3.5A2.8,2.8 0 0 1 8.3,3.5V5" fill="none" stroke="#777" stroke-width="1.4"/></svg></div>
<div class="a " style="top:571.30px;font-size:14px;font-style:italic;right:429.90px;transform:scaleX(0.77);transform-origin:right;">%</div>
<div class="a " style="top:571.30px;font-size:14px;font-style:italic;right:444.20px;transform:scaleX(0.96);transform-origin:right;">2,3</div>
<div class="a " style="top:571.30px;font-size:14px;font-style:italic;right:348.40px;transform:scaleX(0.77);transform-origin:right;">%</div>
<div class="a " style="top:571.30px;font-size:14px;font-style:italic;right:362.70px;transform:scaleX(0.96);transform-origin:right;">0,6</div>
<div class="a " style="top:571.30px;font-size:14px;font-style:italic;right:266.60px;transform:scaleX(0.77);transform-origin:right;">%</div>
<div class="a " style="top:571.30px;font-size:14px;font-style:italic;right:280.90px;transform:scaleX(0.96);transform-origin:right;">5,5</div>
<div class="a " style="top:571.30px;font-size:14px;font-style:italic;right:185.40px;transform:scaleX(0.77);transform-origin:right;">%</div>
<div class="a " style="top:571.30px;font-size:14px;font-style:italic;right:199.70px;transform:scaleX(0.96);transform-origin:right;">6,1</div>
<div class="a " style="top:571.30px;font-size:14px;font-style:italic;right:105.20px;transform:scaleX(0.77);transform-origin:right;">%</div>
<div class="a " style="top:571.30px;font-size:14px;font-style:italic;right:119.50px;transform:scaleX(0.96);transform-origin:right;">7,2</div>
<div class="a " style="top:571.30px;font-size:14px;font-style:italic;right:25.70px;transform:scaleX(0.77);transform-origin:right;">%</div>
<div class="a " style="top:571.30px;font-size:14px;font-style:italic;right:40.00px;transform:scaleX(0.96);transform-origin:right;">6,5</div>
<div class="a lbl" style="top:609.30px;font-size:14px;left:16.23px;transform:scaleX(0.9329);transform-origin:left;">EPS (GAAP)</div>
<div class="lk" style="left:345px;top:602px"><svg viewBox="0.00 -0.50 12 16" width="12" height="16"><path fill="#777" fill-rule="evenodd" d="M1,4.7H10A1,1 0 0 1 11,5.7V12.9A1,1 0 0 1 10,13.9H1A1,1 0 0 1 0,12.9V5.7A1,1 0 0 1 1,4.7ZM5.5,8.15A1.3,1.3 0 1 0 5.5,10.75A1.3,1.3 0 1 0 5.5,8.15Z"/><path d="M2.7,5V3.5A2.8,2.8 0 0 1 8.3,3.5V5" fill="none" stroke="#777" stroke-width="1.4"/></svg></div>
<div class="lk" style="left:426px;top:602px"><svg viewBox="-0.70 -0.50 12 16" width="12" height="16"><path fill="#777" fill-rule="evenodd" d="M1,4.7H10A1,1 0 0 1 11,5.7V12.9A1,1 0 0 1 10,13.9H1A1,1 0 0 1 0,12.9V5.7A1,1 0 0 1 1,4.7ZM5.5,8.15A1.3,1.3 0 1 0 5.5,10.75A1.3,1.3 0 1 0 5.5,8.15Z"/><path d="M2.7,5V3.5A2.8,2.8 0 0 1 8.3,3.5V5" fill="none" stroke="#777" stroke-width="1.4"/></svg></div>
<div class="lk" style="left:508px;top:602px"><svg viewBox="-0.20 -0.50 12 16" width="12" height="16"><path fill="#777" fill-rule="evenodd" d="M1,4.7H10A1,1 0 0 1 11,5.7V12.9A1,1 0 0 1 10,13.9H1A1,1 0 0 1 0,12.9V5.7A1,1 0 0 1 1,4.7ZM5.5,8.15A1.3,1.3 0 1 0 5.5,10.75A1.3,1.3 0 1 0 5.5,8.15Z"/><path d="M2.7,5V3.5A2.8,2.8 0 0 1 8.3,3.5V5" fill="none" stroke="#777" stroke-width="1.4"/></svg></div>
<div class="lk" style="left:590px;top:602px"><svg viewBox="0.00 -0.50 12 16" width="12" height="16"><path fill="#777" fill-rule="evenodd" d="M1,4.7H10A1,1 0 0 1 11,5.7V12.9A1,1 0 0 1 10,13.9H1A1,1 0 0 1 0,12.9V5.7A1,1 0 0 1 1,4.7ZM5.5,8.15A1.3,1.3 0 1 0 5.5,10.75A1.3,1.3 0 1 0 5.5,8.15Z"/><path d="M2.7,5V3.5A2.8,2.8 0 0 1 8.3,3.5V5" fill="none" stroke="#777" stroke-width="1.4"/></svg></div>
<div class="a " style="top:609.30px;font-size:14px;right:512.20px;transform:scaleX(0.97);transform-origin:right;">1,72</div>
<div class="a " style="top:609.30px;font-size:14px;right:430.60px;transform:scaleX(0.97);transform-origin:right;">4,94</div>
<div class="a " style="top:609.30px;font-size:14px;right:349.10px;transform:scaleX(0.97);transform-origin:right;">3,33</div>
<div class="a " style="top:609.30px;font-size:14px;right:267.30px;transform:scaleX(0.97);transform-origin:right;">3,54</div>
<div class="a " style="top:609.30px;font-size:14px;right:186.10px;transform:scaleX(0.97);transform-origin:right;">5,71</div>
<div class="a " style="top:609.30px;font-size:14px;right:105.90px;transform:scaleX(0.97);transform-origin:right;">6,32</div>
<div class="a " style="top:609.30px;font-size:14px;right:26.40px;transform:scaleX(0.97);transform-origin:right;">6,77</div>
<div class="a lbl" style="top:634.30px;font-size:14px;font-style:italic;left:28.22px;transform:scaleX(0.9624);transform-origin:left;">% De cambio interanual</div>
<div class="lk" style="left:176.00px;top:629px"><svg viewBox="0 0 11 11" width="11" height="11"><circle cx="5.5" cy="5.5" r="4.4" fill="none" stroke="#3a3a3a" stroke-width="1.1"/><rect x="5" y="4.9" width="1" height="3" fill="#3a3a3a"/><rect x="5" y="3" width="1" height="1.1" fill="#3a3a3a"/></svg></div>
<div class="lk" style="left:345px;top:627px"><svg viewBox="0.00 -0.50 12 16" width="12" height="16"><path fill="#777" fill-rule="evenodd" d="M1,4.7H10A1,1 0 0 1 11,5.7V12.9A1,1 0 0 1 10,13.9H1A1,1 0 0 1 0,12.9V5.7A1,1 0 0 1 1,4.7ZM5.5,8.15A1.3,1.3 0 1 0 5.5,10.75A1.3,1.3 0 1 0 5.5,8.15Z"/><path d="M2.7,5V3.5A2.8,2.8 0 0 1 8.3,3.5V5" fill="none" stroke="#777" stroke-width="1.4"/></svg></div>
<div class="lk" style="left:426px;top:627px"><svg viewBox="-0.70 -0.50 12 16" width="12" height="16"><path fill="#777" fill-rule="evenodd" d="M1,4.7H10A1,1 0 0 1 11,5.7V12.9A1,1 0 0 1 10,13.9H1A1,1 0 0 1 0,12.9V5.7A1,1 0 0 1 1,4.7ZM5.5,8.15A1.3,1.3 0 1 0 5.5,10.75A1.3,1.3 0 1 0 5.5,8.15Z"/><path d="M2.7,5V3.5A2.8,2.8 0 0 1 8.3,3.5V5" fill="none" stroke="#777" stroke-width="1.4"/></svg></div>
<div class="lk" style="left:508px;top:627px"><svg viewBox="-0.20 -0.50 12 16" width="12" height="16"><path fill="#777" fill-rule="evenodd" d="M1,4.7H10A1,1 0 0 1 11,5.7V12.9A1,1 0 0 1 10,13.9H1A1,1 0 0 1 0,12.9V5.7A1,1 0 0 1 1,4.7ZM5.5,8.15A1.3,1.3 0 1 0 5.5,10.75A1.3,1.3 0 1 0 5.5,8.15Z"/><path d="M2.7,5V3.5A2.8,2.8 0 0 1 8.3,3.5V5" fill="none" stroke="#777" stroke-width="1.4"/></svg></div>
<div class="lk" style="left:590px;top:627px"><svg viewBox="0.00 -0.50 12 16" width="12" height="16"><path fill="#777" fill-rule="evenodd" d="M1,4.7H10A1,1 0 0 1 11,5.7V12.9A1,1 0 0 1 10,13.9H1A1,1 0 0 1 0,12.9V5.7A1,1 0 0 1 1,4.7ZM5.5,8.15A1.3,1.3 0 1 0 5.5,10.75A1.3,1.3 0 1 0 5.5,8.15Z"/><path d="M2.7,5V3.5A2.8,2.8 0 0 1 8.3,3.5V5" fill="none" stroke="#777" stroke-width="1.4"/></svg></div>
<div class="lk" style="left:671px;top:627px"><svg viewBox="-0.00 -0.50 12 16" width="12" height="16"><path fill="#777" fill-rule="evenodd" d="M1,4.7H10A1,1 0 0 1 11,5.7V12.9A1,1 0 0 1 10,13.9H1A1,1 0 0 1 0,12.9V5.7A1,1 0 0 1 1,4.7ZM5.5,8.15A1.3,1.3 0 1 0 5.5,10.75A1.3,1.3 0 1 0 5.5,8.15Z"/><path d="M2.7,5V3.5A2.8,2.8 0 0 1 8.3,3.5V5" fill="none" stroke="#777" stroke-width="1.4"/></svg></div>
<div class="a " style="top:634.30px;font-size:14px;font-style:italic;right:429.90px;transform:scaleX(0.77);transform-origin:right;">%</div>
<div class="a " style="top:634.30px;font-size:14px;font-style:italic;right:444.20px;transform:scaleX(0.96);transform-origin:right;">187,2</div>
<div class="a " style="top:634.30px;font-size:14px;font-style:italic;color:#d9534f;right:347.60px;">)</div>
<div class="a " style="top:634.30px;font-size:14px;font-style:italic;color:#d9534f;right:352.60px;transform:scaleX(0.77);transform-origin:right;">%</div>
<div class="a " style="top:634.30px;font-size:14px;font-style:italic;color:#d9534f;right:367.00px;transform:scaleX(0.96);transform-origin:right;">(32,6</div>
<div class="a " style="top:634.30px;font-size:14px;font-style:italic;right:266.60px;transform:scaleX(0.77);transform-origin:right;">%</div>
<div class="a " style="top:634.30px;font-size:14px;font-style:italic;right:280.90px;transform:scaleX(0.96);transform-origin:right;">6,3</div>
<div class="a " style="top:634.30px;font-size:14px;font-style:italic;right:185.40px;transform:scaleX(0.77);transform-origin:right;">%</div>
<div class="a " style="top:634.30px;font-size:14px;font-style:italic;right:199.70px;transform:scaleX(0.96);transform-origin:right;">61,3</div>
<div class="a " style="top:634.30px;font-size:14px;font-style:italic;right:105.20px;transform:scaleX(0.77);transform-origin:right;">%</div>
<div class="a " style="top:634.30px;font-size:14px;font-style:italic;right:119.50px;transform:scaleX(0.96);transform-origin:right;">10,7</div>
<div class="a " style="top:634.30px;font-size:14px;font-style:italic;right:25.70px;transform:scaleX(0.77);transform-origin:right;">%</div>
<div class="a " style="top:634.30px;font-size:14px;font-style:italic;right:40.00px;transform:scaleX(0.96);transform-origin:right;">7,1</div>
<div class="a lbl" style="top:672.30px;font-size:14px;left:15.60px;transform:scaleX(0.9853);transform-origin:left;">Flujo de caja libre</div>
<div class="lk" style="left:129.00px;top:667px"><svg viewBox="0 0 11 11" width="11" height="11"><circle cx="5.5" cy="5.5" r="4.4" fill="none" stroke="#3a3a3a" stroke-width="1.1"/><rect x="5" y="4.9" width="1" height="3" fill="#3a3a3a"/><rect x="5" y="3" width="1" height="1.1" fill="#3a3a3a"/></svg></div>
<div class="lk" style="left:345px;top:665px"><svg viewBox="0.00 -0.50 12 16" width="12" height="16"><path fill="#777" fill-rule="evenodd" d="M1,4.7H10A1,1 0 0 1 11,5.7V12.9A1,1 0 0 1 10,13.9H1A1,1 0 0 1 0,12.9V5.7A1,1 0 0 1 1,4.7ZM5.5,8.15A1.3,1.3 0 1 0 5.5,10.75A1.3,1.3 0 1 0 5.5,8.15Z"/><path d="M2.7,5V3.5A2.8,2.8 0 0 1 8.3,3.5V5" fill="none" stroke="#777" stroke-width="1.4"/></svg></div>
<div class="lk" style="left:426px;top:665px"><svg viewBox="-0.70 -0.50 12 16" width="12" height="16"><path fill="#777" fill-rule="evenodd" d="M1,4.7H10A1,1 0 0 1 11,5.7V12.9A1,1 0 0 1 10,13.9H1A1,1 0 0 1 0,12.9V5.7A1,1 0 0 1 1,4.7ZM5.5,8.15A1.3,1.3 0 1 0 5.5,10.75A1.3,1.3 0 1 0 5.5,8.15Z"/><path d="M2.7,5V3.5A2.8,2.8 0 0 1 8.3,3.5V5" fill="none" stroke="#777" stroke-width="1.4"/></svg></div>
<div class="lk" style="left:508px;top:665px"><svg viewBox="-0.20 -0.50 12 16" width="12" height="16"><path fill="#777" fill-rule="evenodd" d="M1,4.7H10A1,1 0 0 1 11,5.7V12.9A1,1 0 0 1 10,13.9H1A1,1 0 0 1 0,12.9V5.7A1,1 0 0 1 1,4.7ZM5.5,8.15A1.3,1.3 0 1 0 5.5,10.75A1.3,1.3 0 1 0 5.5,8.15Z"/><path d="M2.7,5V3.5A2.8,2.8 0 0 1 8.3,3.5V5" fill="none" stroke="#777" stroke-width="1.4"/></svg></div>
<div class="lk" style="left:590px;top:665px"><svg viewBox="0.00 -0.50 12 16" width="12" height="16"><path fill="#777" fill-rule="evenodd" d="M1,4.7H10A1,1 0 0 1 11,5.7V12.9A1,1 0 0 1 10,13.9H1A1,1 0 0 1 0,12.9V5.7A1,1 0 0 1 1,4.7ZM5.5,8.15A1.3,1.3 0 1 0 5.5,10.75A1.3,1.3 0 1 0 5.5,8.15Z"/><path d="M2.7,5V3.5A2.8,2.8 0 0 1 8.3,3.5V5" fill="none" stroke="#777" stroke-width="1.4"/></svg></div>
<div class="a " style="top:672.30px;font-size:14px;color:#d9534f;right:512.20px;transform:scaleX(0.97);transform-origin:right;">(1625,00)</div>
<div class="a " style="top:672.30px;font-size:14px;color:#d9534f;right:430.60px;transform:scaleX(0.97);transform-origin:right;">(1425,00)</div>
<div class="a " style="top:672.30px;font-size:14px;color:#d9534f;right:349.10px;transform:scaleX(0.97);transform-origin:right;">(5440,00)</div>
<div class="a " style="top:672.30px;font-size:14px;color:#d9534f;right:267.30px;transform:scaleX(0.97);transform-origin:right;">(2816,00)</div>
<div class="a " style="top:672.30px;font-size:14px;color:#d9534f;right:105.90px;transform:scaleX(0.97);transform-origin:right;">(1612,06)</div>
<div class="a " style="top:672.30px;font-size:14px;color:#d9534f;right:26.40px;transform:scaleX(0.97);transform-origin:right;">(1285,84)</div>
<div class="a lbl" style="top:697.30px;font-size:14px;font-style:italic;left:28.22px;transform:scaleX(0.9624);transform-origin:left;">% De cambio interanual</div>
<div class="lk" style="left:176.00px;top:692px"><svg viewBox="0 0 11 11" width="11" height="11"><circle cx="5.5" cy="5.5" r="4.4" fill="none" stroke="#3a3a3a" stroke-width="1.1"/><rect x="5" y="4.9" width="1" height="3" fill="#3a3a3a"/><rect x="5" y="3" width="1" height="1.1" fill="#3a3a3a"/></svg></div>
<div class="lk" style="left:345px;top:690px"><svg viewBox="0.00 -0.50 12 16" width="12" height="16"><path fill="#777" fill-rule="evenodd" d="M1,4.7H10A1,1 0 0 1 11,5.7V12.9A1,1 0 0 1 10,13.9H1A1,1 0 0 1 0,12.9V5.7A1,1 0 0 1 1,4.7ZM5.5,8.15A1.3,1.3 0 1 0 5.5,10.75A1.3,1.3 0 1 0 5.5,8.15Z"/><path d="M2.7,5V3.5A2.8,2.8 0 0 1 8.3,3.5V5" fill="none" stroke="#777" stroke-width="1.4"/></svg></div>
<div class="lk" style="left:426px;top:690px"><svg viewBox="-0.70 -0.50 12 16" width="12" height="16"><path fill="#777" fill-rule="evenodd" d="M1,4.7H10A1,1 0 0 1 11,5.7V12.9A1,1 0 0 1 10,13.9H1A1,1 0 0 1 0,12.9V5.7A1,1 0 0 1 1,4.7ZM5.5,8.15A1.3,1.3 0 1 0 5.5,10.75A1.3,1.3 0 1 0 5.5,8.15Z"/><path d="M2.7,5V3.5A2.8,2.8 0 0 1 8.3,3.5V5" fill="none" stroke="#777" stroke-width="1.4"/></svg></div>
<div class="lk" style="left:508px;top:690px"><svg viewBox="-0.20 -0.50 12 16" width="12" height="16"><path fill="#777" fill-rule="evenodd" d="M1,4.7H10A1,1 0 0 1 11,5.7V12.9A1,1 0 0 1 10,13.9H1A1,1 0 0 1 0,12.9V5.7A1,1 0 0 1 1,4.7ZM5.5,8.15A1.3,1.3 0 1 0 5.5,10.75A1.3,1.3 0 1 0 5.5,8.15Z"/><path d="M2.7,5V3.5A2.8,2.8 0 0 1 8.3,3.5V5" fill="none" stroke="#777" stroke-width="1.4"/></svg></div>
<div class="lk" style="left:590px;top:690px"><svg viewBox="0.00 -0.50 12 16" width="12" height="16"><path fill="#777" fill-rule="evenodd" d="M1,4.7H10A1,1 0 0 1 11,5.7V12.9A1,1 0 0 1 10,13.9H1A1,1 0 0 1 0,12.9V5.7A1,1 0 0 1 1,4.7ZM5.5,8.15A1.3,1.3 0 1 0 5.5,10.75A1.3,1.3 0 1 0 5.5,8.15Z"/><path d="M2.7,5V3.5A2.8,2.8 0 0 1 8.3,3.5V5" fill="none" stroke="#777" stroke-width="1.4"/></svg></div>
<div class="lk" style="left:671px;top:690px"><svg viewBox="-0.00 -0.50 12 16" width="12" height="16"><path fill="#777" fill-rule="evenodd" d="M1,4.7H10A1,1 0 0 1 11,5.7V12.9A1,1 0 0 1 10,13.9H1A1,1 0 0 1 0,12.9V5.7A1,1 0 0 1 1,4.7ZM5.5,8.15A1.3,1.3 0 1 0 5.5,10.75A1.3,1.3 0 1 0 5.5,8.15Z"/><path d="M2.7,5V3.5A2.8,2.8 0 0 1 8.3,3.5V5" fill="none" stroke="#777" stroke-width="1.4"/></svg></div>
<div class="a " style="top:697.30px;font-size:14px;font-style:italic;right:429.90px;transform:scaleX(0.77);transform-origin:right;">%</div>
<div class="a " style="top:697.30px;font-size:14px;font-style:italic;right:444.20px;transform:scaleX(0.96);transform-origin:right;">12,3</div>
<div class="a " style="top:697.30px;font-size:14px;font-style:italic;right:348.40px;transform:scaleX(0.77);transform-origin:right;">%</div>
<div class="a " style="top:697.30px;font-size:14px;font-style:italic;right:362.70px;transform:scaleX(0.96);transform-origin:right;">281,8</div>
<div class="a " style="top:697.30px;font-size:14px;font-style:italic;right:266.60px;transform:scaleX(0.77);transform-origin:right;">%</div>
<div class="a " style="top:697.30px;font-size:14px;font-style:italic;right:280.90px;transform:scaleX(0.96);transform-origin:right;">48,2</div>
<div class="a " style="top:697.30px;font-size:14px;font-style:italic;right:25.70px;transform:scaleX(0.77);transform-origin:right;">%</div>
<div class="a " style="top:697.30px;font-size:14px;font-style:italic;right:40.00px;transform:scaleX(0.96);transform-origin:right;">20,2</div>
<div class="a lbl" style="top:722.30px;font-size:14px;font-style:italic;left:28.41px;transform:scaleX(0.9544);transform-origin:left;">% Free Cash Flow Margins</div>
<div class="lk" style="left:345px;top:715px"><svg viewBox="0.00 -0.50 12 16" width="12" height="16"><path fill="#777" fill-rule="evenodd" d="M1,4.7H10A1,1 0 0 1 11,5.7V12.9A1,1 0 0 1 10,13.9H1A1,1 0 0 1 0,12.9V5.7A1,1 0 0 1 1,4.7ZM5.5,8.15A1.3,1.3 0 1 0 5.5,10.75A1.3,1.3 0 1 0 5.5,8.15Z"/><path d="M2.7,5V3.5A2.8,2.8 0 0 1 8.3,3.5V5" fill="none" stroke="#777" stroke-width="1.4"/></svg></div>
<div class="lk" style="left:426px;top:715px"><svg viewBox="-0.70 -0.50 12 16" width="12" height="16"><path fill="#777" fill-rule="evenodd" d="M1,4.7H10A1,1 0 0 1 11,5.7V12.9A1,1 0 0 1 10,13.9H1A1,1 0 0 1 0,12.9V5.7A1,1 0 0 1 1,4.7ZM5.5,8.15A1.3,1.3 0 1 0 5.5,10.75A1.3,1.3 0 1 0 5.5,8.15Z"/><path d="M2.7,5V3.5A2.8,2.8 0 0 1 8.3,3.5V5" fill="none" stroke="#777" stroke-width="1.4"/></svg></div>
<div class="lk" style="left:508px;top:715px"><svg viewBox="-0.20 -0.50 12 16" width="12" height="16"><path fill="#777" fill-rule="evenodd" d="M1,4.7H10A1,1 0 0 1 11,5.7V12.9A1,1 0 0 1 10,13.9H1A1,1 0 0 1 0,12.9V5.7A1,1 0 0 1 1,4.7ZM5.5,8.15A1.3,1.3 0 1 0 5.5,10.75A1.3,1.3 0 1 0 5.5,8.15Z"/><path d="M2.7,5V3.5A2.8,2.8 0 0 1 8.3,3.5V5" fill="none" stroke="#777" stroke-width="1.4"/></svg></div>
<div class="lk" style="left:590px;top:715px"><svg viewBox="0.00 -0.50 12 16" width="12" height="16"><path fill="#777" fill-rule="evenodd" d="M1,4.7H10A1,1 0 0 1 11,5.7V12.9A1,1 0 0 1 10,13.9H1A1,1 0 0 1 0,12.9V5.7A1,1 0 0 1 1,4.7ZM5.5,8.15A1.3,1.3 0 1 0 5.5,10.75A1.3,1.3 0 1 0 5.5,8.15Z"/><path d="M2.7,5V3.5A2.8,2.8 0 0 1 8.3,3.5V5" fill="none" stroke="#777" stroke-width="1.4"/></svg></div>
<div class="a " style="top:722.30px;font-size:14px;font-style:italic;color:#d9534f;right:510.70px;">)</div>
<div class="a " style="top:722.30px;font-size:14px;font-style:italic;color:#d9534f;right:515.70px;transform:scaleX(0.77);transform-origin:right;">%</div>
<div class="a " style="top:722.30px;font-size:14px;font-style:italic;color:#d9534f;right:530.10px;transform:scaleX(0.96);transform-origin:right;">(6,8</div>
<div class="a " style="top:722.30px;font-size:14px;font-style:italic;color:#d9534f;right:429.10px;">)</div>
<div class="a " style="top:722.30px;font-size:14px;font-style:italic;color:#d9534f;right:434.10px;transform:scaleX(0.77);transform-origin:right;">%</div>
<div class="a " style="top:722.30px;font-size:14px;font-style:italic;color:#d9534f;right:448.50px;transform:scaleX(0.96);transform-origin:right;">(5,7</div>
<div class="a " style="top:722.30px;font-size:14px;font-style:italic;color:#d9534f;right:347.60px;">)</div>
<div class="a " style="top:722.30px;font-size:14px;font-style:italic;color:#d9534f;right:352.60px;transform:scaleX(0.77);transform-origin:right;">%</div>
<div class="a " style="top:722.30px;font-size:14px;font-style:italic;color:#d9534f;right:367.00px;transform:scaleX(0.96);transform-origin:right;">(18,9</div>
<div class="a " style="top:722.30px;font-size:14px;font-style:italic;color:#d9534f;right:265.80px;">)</div>
<div class="a " style="top:722.30px;font-size:14px;font-style:italic;color:#d9534f;right:270.80px;transform:scaleX(0.77);transform-origin:right;">%</div>
<div class="a " style="top:722.30px;font-size:14px;font-style:italic;color:#d9534f;right:285.20px;transform:scaleX(0.96);transform-origin:right;">(9,7</div>
<div class="a " style="top:722.30px;font-size:14px;font-style:italic;color:#d9534f;right:104.40px;">)</div>
<div class="a " style="top:722.30px;font-size:14px;font-style:italic;color:#d9534f;right:109.40px;transform:scaleX(0.77);transform-origin:right;">%</div>
<div class="a " style="top:722.30px;font-size:14px;font-style:italic;color:#d9534f;right:123.80px;transform:scaleX(0.96);transform-origin:right;">(5,1</div>
<div class="a " style="top:722.30px;font-size:14px;font-style:italic;color:#d9534f;right:24.90px;">)</div>
<div class="a " style="top:722.30px;font-size:14px;font-style:italic;color:#d9534f;right:29.90px;transform:scaleX(0.77);transform-origin:right;">%</div>
<div class="a " style="top:722.30px;font-size:14px;font-style:italic;color:#d9534f;right:44.30px;transform:scaleX(0.96);transform-origin:right;">(3,9</div>
<div style="position:absolute;left:3px;top:259px;width:1101px;height:92px;border:5px solid #d51e27"></div>
<div style="position:absolute;left:4px;top:260px;width:1099px;height:90px;border:3px solid #ed1c24"></div>
<div style="position:absolute;left:4px;top:648px;width:1099px;height:88px;border:5px solid #d51e27"></div>
<div style="position:absolute;left:5px;top:649px;width:1097px;height:86px;border:3px solid #ed1c24"></div></body></html>
